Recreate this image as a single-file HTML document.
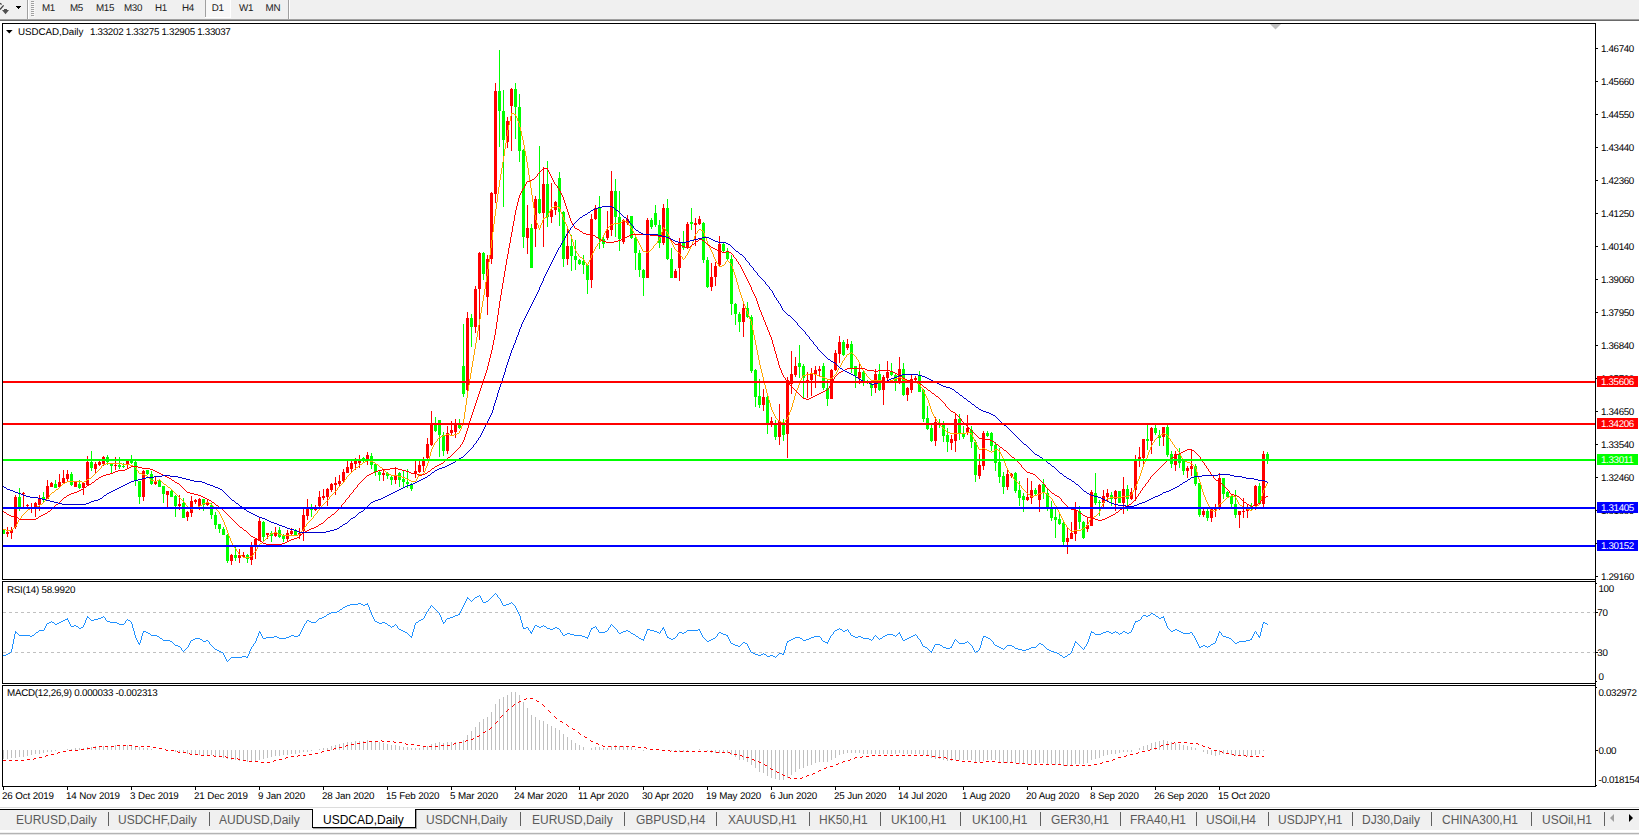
<!DOCTYPE html>
<html><head><meta charset="utf-8"><title>USDCAD,Daily</title>
<style>
html,body{margin:0;padding:0;background:#fff;}
body{width:1639px;height:835px;position:relative;overflow:hidden;font-family:"Liberation Sans",sans-serif;}
.t{position:absolute;white-space:pre;font-size:9.8px;line-height:12px;color:#000;letter-spacing:-0.25px;text-rendering:geometricPrecision;}
.tp{letter-spacing:-0.35px;}
.tt{letter-spacing:-0.05px;}
.tb{color:#202020;letter-spacing:-0.3px;}
.td{letter-spacing:-0.21px;word-spacing:0.3px;}
.tn{letter-spacing:-0.3px;}
.lb{position:absolute;left:1597px;width:41px;height:10px;padding-top:1px;color:#fff;font-size:9.8px;line-height:11px;letter-spacing:-0.35px;text-indent:4px;text-rendering:geometricPrecision;white-space:pre;}
#toolbar{position:absolute;left:0;top:0;width:1639px;height:19px;background:#f0f0f0;}
#tl1{position:absolute;left:0;top:19px;width:1639px;height:1px;background:#a0a0a0;}
#tl2{position:absolute;left:0;top:20px;width:1639px;height:1px;background:#696969;}
#tabbar{position:absolute;left:0;top:807px;width:1639px;height:28px;background:#f0f0f0;}
#tabtop{position:absolute;left:0;top:2px;width:1639px;height:1px;background:#000;}
.tab{position:absolute;top:5px;font-size:12px;line-height:16px;color:#5a5a5a;white-space:pre;}
.tab.act{color:#000;}
#acttab{position:absolute;left:312px;top:2px;width:104px;height:19px;background:#fff;border:1px solid #000;border-top:none;box-sizing:border-box;box-shadow:1px 1px 0 #a0a0a0;}
.sep{position:absolute;top:5px;width:1px;height:14px;background:#606060;}
#tabl0{position:absolute;left:0;top:0;width:100%;height:1px;background:#dcdcdc;}
#tabl1{position:absolute;left:0;top:1px;width:100%;height:1px;background:#fff;}
#tabl2{position:absolute;left:0;top:23px;width:100%;height:2px;background:#fff;}
#tabl3{position:absolute;left:0;top:26px;width:100%;height:1px;background:#b4b4b4;}
#tabl4{position:absolute;left:0;top:27px;width:100%;height:1px;background:#e4e4e4;}
svg{position:absolute;left:0;top:0;}
</style></head><body>
<div id="toolbar"></div><div id="tl1"></div><div id="tl2"></div>
<svg width="1639" height="835" viewBox="0 0 1639 835">
<g shape-rendering="crispEdges">
<rect x="3" y="529" width="1" height="5" fill="#00ff00"/>
<rect x="3" y="530" width="2" height="4" fill="#00ff00"/>
<rect x="7" y="527" width="1" height="10" fill="#ff0000"/>
<rect x="6" y="532" width="3" height="2" fill="#ff0000"/>
<rect x="11" y="527" width="1" height="12" fill="#ff0000"/>
<rect x="10" y="530" width="3" height="3" fill="#ff0000"/>
<rect x="15" y="495" width="1" height="34" fill="#ff0000"/>
<rect x="14" y="497" width="3" height="30" fill="#ff0000"/>
<rect x="19" y="488" width="1" height="23" fill="#00ff00"/>
<rect x="18" y="497" width="3" height="10" fill="#00ff00"/>
<rect x="23" y="492" width="1" height="15" fill="#ff0000"/>
<rect x="22" y="493" width="3" height="1" fill="#ff0000"/>
<rect x="27" y="504" width="1" height="5" fill="#ff0000"/>
<rect x="26" y="505" width="3" height="1" fill="#ff0000"/>
<rect x="31" y="503" width="1" height="10" fill="#ff0000"/>
<rect x="30" y="507" width="3" height="2" fill="#ff0000"/>
<rect x="35" y="502" width="1" height="15" fill="#ff0000"/>
<rect x="34" y="503" width="3" height="4" fill="#ff0000"/>
<rect x="39" y="495" width="1" height="16" fill="#ff0000"/>
<rect x="38" y="498" width="3" height="7" fill="#ff0000"/>
<rect x="43" y="492" width="1" height="11" fill="#00ff00"/>
<rect x="42" y="497" width="3" height="3" fill="#00ff00"/>
<rect x="47" y="480" width="1" height="19" fill="#ff0000"/>
<rect x="46" y="486" width="3" height="13" fill="#ff0000"/>
<rect x="51" y="482" width="1" height="5" fill="#ff0000"/>
<rect x="50" y="483" width="3" height="4" fill="#ff0000"/>
<rect x="55" y="480" width="1" height="8" fill="#00ff00"/>
<rect x="54" y="484" width="3" height="4" fill="#00ff00"/>
<rect x="59" y="474" width="1" height="14" fill="#ff0000"/>
<rect x="58" y="482" width="3" height="5" fill="#ff0000"/>
<rect x="63" y="470" width="1" height="14" fill="#ff0000"/>
<rect x="62" y="478" width="3" height="5" fill="#ff0000"/>
<rect x="67" y="470" width="1" height="12" fill="#ff0000"/>
<rect x="66" y="474" width="3" height="5" fill="#ff0000"/>
<rect x="71" y="472" width="1" height="14" fill="#00ff00"/>
<rect x="70" y="474" width="3" height="11" fill="#00ff00"/>
<rect x="75" y="481" width="1" height="6" fill="#ff0000"/>
<rect x="74" y="481" width="3" height="6" fill="#ff0000"/>
<rect x="79" y="480" width="1" height="9" fill="#00ff00"/>
<rect x="78" y="484" width="3" height="4" fill="#00ff00"/>
<rect x="83" y="483" width="1" height="12" fill="#ff0000"/>
<rect x="82" y="483" width="3" height="5" fill="#ff0000"/>
<rect x="87" y="456" width="1" height="30" fill="#ff0000"/>
<rect x="86" y="462" width="3" height="23" fill="#ff0000"/>
<rect x="91" y="451" width="1" height="20" fill="#00ff00"/>
<rect x="90" y="462" width="3" height="6" fill="#00ff00"/>
<rect x="95" y="462" width="1" height="11" fill="#ff0000"/>
<rect x="94" y="464" width="3" height="5" fill="#ff0000"/>
<rect x="99" y="461" width="1" height="5" fill="#ff0000"/>
<rect x="98" y="462" width="3" height="3" fill="#ff0000"/>
<rect x="103" y="456" width="1" height="10" fill="#ff0000"/>
<rect x="102" y="457" width="3" height="7" fill="#ff0000"/>
<rect x="107" y="455" width="1" height="10" fill="#00ff00"/>
<rect x="106" y="457" width="3" height="5" fill="#00ff00"/>
<rect x="111" y="464" width="1" height="10" fill="#00ff00"/>
<rect x="110" y="464" width="3" height="2" fill="#00ff00"/>
<rect x="115" y="457" width="1" height="13" fill="#ff0000"/>
<rect x="114" y="465" width="3" height="1" fill="#ff0000"/>
<rect x="119" y="457" width="1" height="12" fill="#00ff00"/>
<rect x="118" y="465" width="3" height="2" fill="#00ff00"/>
<rect x="123" y="463" width="1" height="5" fill="#00ff00"/>
<rect x="122" y="466" width="3" height="1" fill="#00ff00"/>
<rect x="127" y="460" width="1" height="8" fill="#ff0000"/>
<rect x="126" y="461" width="3" height="3" fill="#ff0000"/>
<rect x="131" y="455" width="1" height="9" fill="#00ff00"/>
<rect x="130" y="461" width="3" height="2" fill="#00ff00"/>
<rect x="135" y="461" width="1" height="25" fill="#00ff00"/>
<rect x="134" y="462" width="3" height="19" fill="#00ff00"/>
<rect x="139" y="481" width="1" height="23" fill="#00ff00"/>
<rect x="138" y="481" width="3" height="16" fill="#00ff00"/>
<rect x="143" y="470" width="1" height="31" fill="#ff0000"/>
<rect x="142" y="471" width="3" height="26" fill="#ff0000"/>
<rect x="147" y="470" width="1" height="5" fill="#00ff00"/>
<rect x="146" y="470" width="3" height="4" fill="#00ff00"/>
<rect x="151" y="471" width="1" height="14" fill="#00ff00"/>
<rect x="150" y="474" width="3" height="10" fill="#00ff00"/>
<rect x="155" y="477" width="1" height="8" fill="#ff0000"/>
<rect x="154" y="481" width="3" height="3" fill="#ff0000"/>
<rect x="159" y="479" width="1" height="8" fill="#00ff00"/>
<rect x="158" y="480" width="3" height="7" fill="#00ff00"/>
<rect x="163" y="486" width="1" height="17" fill="#00ff00"/>
<rect x="162" y="486" width="3" height="8" fill="#00ff00"/>
<rect x="167" y="491" width="1" height="16" fill="#ff0000"/>
<rect x="166" y="491" width="3" height="4" fill="#ff0000"/>
<rect x="171" y="490" width="1" height="7" fill="#00ff00"/>
<rect x="170" y="491" width="3" height="6" fill="#00ff00"/>
<rect x="175" y="495" width="1" height="22" fill="#00ff00"/>
<rect x="174" y="496" width="3" height="10" fill="#00ff00"/>
<rect x="179" y="495" width="1" height="15" fill="#ff0000"/>
<rect x="178" y="504" width="3" height="2" fill="#ff0000"/>
<rect x="183" y="498" width="1" height="20" fill="#00ff00"/>
<rect x="182" y="503" width="3" height="15" fill="#00ff00"/>
<rect x="187" y="511" width="1" height="10" fill="#ff0000"/>
<rect x="186" y="512" width="3" height="5" fill="#ff0000"/>
<rect x="191" y="496" width="1" height="21" fill="#ff0000"/>
<rect x="190" y="501" width="3" height="12" fill="#ff0000"/>
<rect x="195" y="499" width="1" height="5" fill="#ff0000"/>
<rect x="194" y="500" width="3" height="2" fill="#ff0000"/>
<rect x="199" y="498" width="1" height="12" fill="#ff0000"/>
<rect x="198" y="499" width="3" height="7" fill="#ff0000"/>
<rect x="203" y="499" width="1" height="12" fill="#00ff00"/>
<rect x="202" y="499" width="3" height="6" fill="#00ff00"/>
<rect x="207" y="499" width="1" height="7" fill="#ff0000"/>
<rect x="206" y="502" width="3" height="3" fill="#ff0000"/>
<rect x="211" y="503" width="1" height="16" fill="#00ff00"/>
<rect x="210" y="505" width="3" height="10" fill="#00ff00"/>
<rect x="215" y="512" width="1" height="17" fill="#00ff00"/>
<rect x="214" y="515" width="3" height="10" fill="#00ff00"/>
<rect x="219" y="524" width="1" height="9" fill="#00ff00"/>
<rect x="218" y="524" width="3" height="5" fill="#00ff00"/>
<rect x="223" y="527" width="1" height="8" fill="#00ff00"/>
<rect x="222" y="529" width="3" height="6" fill="#00ff00"/>
<rect x="227" y="534" width="1" height="29" fill="#00ff00"/>
<rect x="226" y="535" width="3" height="26" fill="#00ff00"/>
<rect x="231" y="554" width="1" height="11" fill="#ff0000"/>
<rect x="230" y="555" width="3" height="6" fill="#ff0000"/>
<rect x="235" y="547" width="1" height="14" fill="#00ff00"/>
<rect x="234" y="555" width="3" height="3" fill="#00ff00"/>
<rect x="239" y="549" width="1" height="14" fill="#ff0000"/>
<rect x="238" y="555" width="3" height="3" fill="#ff0000"/>
<rect x="243" y="552" width="1" height="6" fill="#ff0000"/>
<rect x="242" y="555" width="3" height="2" fill="#ff0000"/>
<rect x="247" y="554" width="1" height="9" fill="#00ff00"/>
<rect x="246" y="555" width="3" height="4" fill="#00ff00"/>
<rect x="251" y="542" width="1" height="23" fill="#ff0000"/>
<rect x="250" y="547" width="3" height="13" fill="#ff0000"/>
<rect x="255" y="538" width="1" height="21" fill="#ff0000"/>
<rect x="254" y="539" width="3" height="6" fill="#ff0000"/>
<rect x="259" y="518" width="1" height="23" fill="#ff0000"/>
<rect x="258" y="521" width="3" height="20" fill="#ff0000"/>
<rect x="263" y="521" width="1" height="20" fill="#00ff00"/>
<rect x="262" y="522" width="3" height="15" fill="#00ff00"/>
<rect x="267" y="533" width="1" height="6" fill="#ff0000"/>
<rect x="266" y="533" width="3" height="2" fill="#ff0000"/>
<rect x="271" y="531" width="1" height="11" fill="#00ff00"/>
<rect x="270" y="533" width="3" height="3" fill="#00ff00"/>
<rect x="275" y="527" width="1" height="10" fill="#ff0000"/>
<rect x="274" y="532" width="3" height="4" fill="#ff0000"/>
<rect x="279" y="527" width="1" height="11" fill="#00ff00"/>
<rect x="278" y="530" width="3" height="7" fill="#00ff00"/>
<rect x="283" y="534" width="1" height="8" fill="#00ff00"/>
<rect x="282" y="536" width="3" height="3" fill="#00ff00"/>
<rect x="287" y="530" width="1" height="11" fill="#ff0000"/>
<rect x="286" y="533" width="3" height="6" fill="#ff0000"/>
<rect x="291" y="528" width="1" height="7" fill="#ff0000"/>
<rect x="290" y="531" width="3" height="3" fill="#ff0000"/>
<rect x="295" y="529" width="1" height="6" fill="#00ff00"/>
<rect x="294" y="531" width="3" height="4" fill="#00ff00"/>
<rect x="299" y="528" width="1" height="11" fill="#ff0000"/>
<rect x="298" y="533" width="3" height="2" fill="#ff0000"/>
<rect x="303" y="509" width="1" height="32" fill="#ff0000"/>
<rect x="302" y="515" width="3" height="16" fill="#ff0000"/>
<rect x="307" y="499" width="1" height="21" fill="#ff0000"/>
<rect x="306" y="508" width="3" height="8" fill="#ff0000"/>
<rect x="311" y="504" width="1" height="13" fill="#00ff00"/>
<rect x="310" y="508" width="3" height="2" fill="#00ff00"/>
<rect x="315" y="505" width="1" height="6" fill="#ff0000"/>
<rect x="314" y="508" width="3" height="2" fill="#ff0000"/>
<rect x="319" y="491" width="1" height="16" fill="#ff0000"/>
<rect x="318" y="497" width="3" height="9" fill="#ff0000"/>
<rect x="323" y="489" width="1" height="11" fill="#ff0000"/>
<rect x="322" y="496" width="3" height="2" fill="#ff0000"/>
<rect x="327" y="488" width="1" height="18" fill="#ff0000"/>
<rect x="326" y="489" width="3" height="8" fill="#ff0000"/>
<rect x="331" y="483" width="1" height="9" fill="#ff0000"/>
<rect x="330" y="484" width="3" height="6" fill="#ff0000"/>
<rect x="335" y="477" width="1" height="18" fill="#ff0000"/>
<rect x="334" y="483" width="3" height="2" fill="#ff0000"/>
<rect x="339" y="475" width="1" height="11" fill="#ff0000"/>
<rect x="338" y="481" width="3" height="3" fill="#ff0000"/>
<rect x="343" y="469" width="1" height="13" fill="#ff0000"/>
<rect x="342" y="472" width="3" height="9" fill="#ff0000"/>
<rect x="347" y="461" width="1" height="12" fill="#ff0000"/>
<rect x="346" y="467" width="3" height="6" fill="#ff0000"/>
<rect x="351" y="461" width="1" height="12" fill="#ff0000"/>
<rect x="350" y="463" width="3" height="6" fill="#ff0000"/>
<rect x="355" y="458" width="1" height="12" fill="#ff0000"/>
<rect x="354" y="461" width="3" height="3" fill="#ff0000"/>
<rect x="359" y="455" width="1" height="13" fill="#ff0000"/>
<rect x="358" y="461" width="3" height="2" fill="#ff0000"/>
<rect x="363" y="457" width="1" height="5" fill="#00ff00"/>
<rect x="362" y="458" width="3" height="3" fill="#00ff00"/>
<rect x="367" y="452" width="1" height="13" fill="#ff0000"/>
<rect x="366" y="455" width="3" height="4" fill="#ff0000"/>
<rect x="371" y="453" width="1" height="16" fill="#00ff00"/>
<rect x="370" y="456" width="3" height="9" fill="#00ff00"/>
<rect x="375" y="463" width="1" height="13" fill="#00ff00"/>
<rect x="374" y="464" width="3" height="8" fill="#00ff00"/>
<rect x="379" y="471" width="1" height="10" fill="#00ff00"/>
<rect x="378" y="472" width="3" height="3" fill="#00ff00"/>
<rect x="383" y="469" width="1" height="12" fill="#ff0000"/>
<rect x="382" y="473" width="3" height="2" fill="#ff0000"/>
<rect x="387" y="472" width="1" height="7" fill="#00ff00"/>
<rect x="386" y="473" width="3" height="3" fill="#00ff00"/>
<rect x="391" y="475" width="1" height="10" fill="#00ff00"/>
<rect x="390" y="477" width="3" height="3" fill="#00ff00"/>
<rect x="395" y="467" width="1" height="17" fill="#ff0000"/>
<rect x="394" y="475" width="3" height="5" fill="#ff0000"/>
<rect x="399" y="472" width="1" height="15" fill="#00ff00"/>
<rect x="398" y="473" width="3" height="7" fill="#00ff00"/>
<rect x="403" y="471" width="1" height="16" fill="#00ff00"/>
<rect x="402" y="479" width="3" height="3" fill="#00ff00"/>
<rect x="407" y="469" width="1" height="19" fill="#00ff00"/>
<rect x="406" y="482" width="3" height="2" fill="#00ff00"/>
<rect x="411" y="483" width="1" height="8" fill="#00ff00"/>
<rect x="410" y="484" width="3" height="5" fill="#00ff00"/>
<rect x="415" y="461" width="1" height="17" fill="#ff0000"/>
<rect x="414" y="471" width="3" height="3" fill="#ff0000"/>
<rect x="419" y="460" width="1" height="13" fill="#ff0000"/>
<rect x="418" y="465" width="3" height="7" fill="#ff0000"/>
<rect x="423" y="457" width="1" height="15" fill="#ff0000"/>
<rect x="422" y="461" width="3" height="5" fill="#ff0000"/>
<rect x="427" y="438" width="1" height="21" fill="#ff0000"/>
<rect x="426" y="444" width="3" height="14" fill="#ff0000"/>
<rect x="431" y="411" width="1" height="35" fill="#ff0000"/>
<rect x="430" y="424" width="3" height="21" fill="#ff0000"/>
<rect x="435" y="417" width="1" height="15" fill="#00ff00"/>
<rect x="434" y="424" width="3" height="7" fill="#00ff00"/>
<rect x="439" y="420" width="1" height="37" fill="#00ff00"/>
<rect x="438" y="420" width="3" height="15" fill="#00ff00"/>
<rect x="443" y="432" width="1" height="24" fill="#00ff00"/>
<rect x="442" y="435" width="3" height="16" fill="#00ff00"/>
<rect x="447" y="426" width="1" height="28" fill="#ff0000"/>
<rect x="446" y="433" width="3" height="18" fill="#ff0000"/>
<rect x="451" y="421" width="1" height="15" fill="#ff0000"/>
<rect x="450" y="430" width="3" height="3" fill="#ff0000"/>
<rect x="455" y="419" width="1" height="19" fill="#ff0000"/>
<rect x="454" y="424" width="3" height="8" fill="#ff0000"/>
<rect x="459" y="419" width="1" height="10" fill="#00ff00"/>
<rect x="458" y="424" width="3" height="4" fill="#00ff00"/>
<rect x="463" y="324" width="1" height="73" fill="#00ff00"/>
<rect x="462" y="366" width="3" height="28" fill="#00ff00"/>
<rect x="467" y="312" width="1" height="83" fill="#ff0000"/>
<rect x="466" y="318" width="3" height="72" fill="#ff0000"/>
<rect x="471" y="314" width="1" height="33" fill="#00ff00"/>
<rect x="470" y="318" width="3" height="9" fill="#00ff00"/>
<rect x="475" y="286" width="1" height="47" fill="#ff0000"/>
<rect x="474" y="289" width="3" height="38" fill="#ff0000"/>
<rect x="479" y="252" width="1" height="88" fill="#ff0000"/>
<rect x="478" y="253" width="3" height="36" fill="#ff0000"/>
<rect x="483" y="252" width="1" height="28" fill="#00ff00"/>
<rect x="482" y="253" width="3" height="21" fill="#00ff00"/>
<rect x="487" y="255" width="1" height="60" fill="#ff0000"/>
<rect x="486" y="259" width="3" height="38" fill="#ff0000"/>
<rect x="491" y="192" width="1" height="72" fill="#ff0000"/>
<rect x="490" y="193" width="3" height="66" fill="#ff0000"/>
<rect x="495" y="83" width="1" height="120" fill="#ff0000"/>
<rect x="494" y="91" width="3" height="103" fill="#ff0000"/>
<rect x="499" y="50" width="1" height="97" fill="#00ff00"/>
<rect x="498" y="91" width="3" height="20" fill="#00ff00"/>
<rect x="503" y="90" width="1" height="117" fill="#00ff00"/>
<rect x="502" y="111" width="3" height="29" fill="#00ff00"/>
<rect x="507" y="117" width="1" height="31" fill="#ff0000"/>
<rect x="506" y="121" width="3" height="21" fill="#ff0000"/>
<rect x="511" y="88" width="1" height="63" fill="#ff0000"/>
<rect x="510" y="89" width="3" height="17" fill="#ff0000"/>
<rect x="515" y="83" width="1" height="56" fill="#00ff00"/>
<rect x="514" y="89" width="3" height="18" fill="#00ff00"/>
<rect x="519" y="94" width="1" height="68" fill="#00ff00"/>
<rect x="518" y="107" width="3" height="44" fill="#00ff00"/>
<rect x="523" y="149" width="1" height="99" fill="#00ff00"/>
<rect x="522" y="150" width="3" height="87" fill="#00ff00"/>
<rect x="527" y="205" width="1" height="49" fill="#ff0000"/>
<rect x="526" y="228" width="3" height="10" fill="#ff0000"/>
<rect x="531" y="224" width="1" height="44" fill="#00ff00"/>
<rect x="530" y="228" width="3" height="40" fill="#00ff00"/>
<rect x="535" y="196" width="1" height="51" fill="#ff0000"/>
<rect x="534" y="199" width="3" height="30" fill="#ff0000"/>
<rect x="539" y="146" width="1" height="68" fill="#00ff00"/>
<rect x="538" y="199" width="3" height="14" fill="#00ff00"/>
<rect x="543" y="167" width="1" height="80" fill="#ff0000"/>
<rect x="542" y="184" width="3" height="29" fill="#ff0000"/>
<rect x="547" y="161" width="1" height="66" fill="#00ff00"/>
<rect x="546" y="184" width="3" height="33" fill="#00ff00"/>
<rect x="551" y="183" width="1" height="40" fill="#ff0000"/>
<rect x="550" y="210" width="3" height="7" fill="#ff0000"/>
<rect x="555" y="201" width="1" height="14" fill="#ff0000"/>
<rect x="554" y="202" width="3" height="8" fill="#ff0000"/>
<rect x="559" y="172" width="1" height="54" fill="#00ff00"/>
<rect x="558" y="178" width="3" height="34" fill="#00ff00"/>
<rect x="563" y="211" width="1" height="56" fill="#00ff00"/>
<rect x="562" y="212" width="3" height="47" fill="#00ff00"/>
<rect x="567" y="228" width="1" height="37" fill="#ff0000"/>
<rect x="566" y="246" width="3" height="13" fill="#ff0000"/>
<rect x="571" y="235" width="1" height="36" fill="#00ff00"/>
<rect x="570" y="246" width="3" height="10" fill="#00ff00"/>
<rect x="575" y="240" width="1" height="30" fill="#00ff00"/>
<rect x="574" y="256" width="3" height="4" fill="#00ff00"/>
<rect x="579" y="259" width="1" height="6" fill="#00ff00"/>
<rect x="578" y="260" width="3" height="4" fill="#00ff00"/>
<rect x="583" y="255" width="1" height="19" fill="#00ff00"/>
<rect x="582" y="261" width="3" height="4" fill="#00ff00"/>
<rect x="587" y="264" width="1" height="30" fill="#00ff00"/>
<rect x="586" y="265" width="3" height="15" fill="#00ff00"/>
<rect x="591" y="214" width="1" height="74" fill="#ff0000"/>
<rect x="590" y="219" width="3" height="61" fill="#ff0000"/>
<rect x="595" y="205" width="1" height="15" fill="#ff0000"/>
<rect x="594" y="208" width="3" height="11" fill="#ff0000"/>
<rect x="599" y="196" width="1" height="53" fill="#00ff00"/>
<rect x="598" y="208" width="3" height="31" fill="#00ff00"/>
<rect x="603" y="237" width="1" height="11" fill="#00ff00"/>
<rect x="602" y="239" width="3" height="5" fill="#00ff00"/>
<rect x="607" y="211" width="1" height="29" fill="#ff0000"/>
<rect x="606" y="230" width="3" height="8" fill="#ff0000"/>
<rect x="611" y="171" width="1" height="65" fill="#ff0000"/>
<rect x="610" y="191" width="3" height="39" fill="#ff0000"/>
<rect x="615" y="179" width="1" height="58" fill="#00ff00"/>
<rect x="614" y="191" width="3" height="26" fill="#00ff00"/>
<rect x="619" y="191" width="1" height="60" fill="#00ff00"/>
<rect x="618" y="217" width="3" height="22" fill="#00ff00"/>
<rect x="623" y="219" width="1" height="25" fill="#ff0000"/>
<rect x="622" y="220" width="3" height="22" fill="#ff0000"/>
<rect x="627" y="215" width="1" height="10" fill="#ff0000"/>
<rect x="626" y="219" width="3" height="4" fill="#ff0000"/>
<rect x="631" y="216" width="1" height="23" fill="#00ff00"/>
<rect x="630" y="216" width="3" height="22" fill="#00ff00"/>
<rect x="635" y="237" width="1" height="33" fill="#00ff00"/>
<rect x="634" y="238" width="3" height="15" fill="#00ff00"/>
<rect x="639" y="250" width="1" height="27" fill="#00ff00"/>
<rect x="638" y="253" width="3" height="17" fill="#00ff00"/>
<rect x="643" y="269" width="1" height="27" fill="#00ff00"/>
<rect x="642" y="270" width="3" height="8" fill="#00ff00"/>
<rect x="647" y="218" width="1" height="60" fill="#ff0000"/>
<rect x="646" y="220" width="3" height="58" fill="#ff0000"/>
<rect x="651" y="218" width="1" height="11" fill="#00ff00"/>
<rect x="650" y="220" width="3" height="7" fill="#00ff00"/>
<rect x="655" y="205" width="1" height="22" fill="#00ff00"/>
<rect x="654" y="213" width="3" height="12" fill="#00ff00"/>
<rect x="659" y="220" width="1" height="28" fill="#00ff00"/>
<rect x="658" y="225" width="3" height="18" fill="#00ff00"/>
<rect x="663" y="204" width="1" height="41" fill="#ff0000"/>
<rect x="662" y="208" width="3" height="35" fill="#ff0000"/>
<rect x="667" y="199" width="1" height="61" fill="#00ff00"/>
<rect x="666" y="208" width="3" height="51" fill="#00ff00"/>
<rect x="671" y="248" width="1" height="30" fill="#00ff00"/>
<rect x="670" y="259" width="3" height="19" fill="#00ff00"/>
<rect x="675" y="269" width="1" height="9" fill="#ff0000"/>
<rect x="674" y="271" width="3" height="7" fill="#ff0000"/>
<rect x="679" y="238" width="1" height="43" fill="#ff0000"/>
<rect x="678" y="243" width="3" height="25" fill="#ff0000"/>
<rect x="683" y="231" width="1" height="19" fill="#00ff00"/>
<rect x="682" y="243" width="3" height="5" fill="#00ff00"/>
<rect x="687" y="222" width="1" height="27" fill="#ff0000"/>
<rect x="686" y="224" width="3" height="24" fill="#ff0000"/>
<rect x="691" y="208" width="1" height="22" fill="#00ff00"/>
<rect x="690" y="222" width="3" height="2" fill="#00ff00"/>
<rect x="695" y="218" width="1" height="28" fill="#ff0000"/>
<rect x="694" y="223" width="3" height="2" fill="#ff0000"/>
<rect x="699" y="216" width="1" height="9" fill="#ff0000"/>
<rect x="698" y="219" width="3" height="5" fill="#ff0000"/>
<rect x="703" y="222" width="1" height="41" fill="#00ff00"/>
<rect x="702" y="223" width="3" height="37" fill="#00ff00"/>
<rect x="707" y="257" width="1" height="31" fill="#00ff00"/>
<rect x="706" y="260" width="3" height="27" fill="#00ff00"/>
<rect x="711" y="263" width="1" height="28" fill="#ff0000"/>
<rect x="710" y="277" width="3" height="10" fill="#ff0000"/>
<rect x="715" y="262" width="1" height="24" fill="#ff0000"/>
<rect x="714" y="266" width="3" height="11" fill="#ff0000"/>
<rect x="719" y="236" width="1" height="30" fill="#ff0000"/>
<rect x="718" y="244" width="3" height="21" fill="#ff0000"/>
<rect x="723" y="243" width="1" height="9" fill="#00ff00"/>
<rect x="722" y="244" width="3" height="7" fill="#00ff00"/>
<rect x="727" y="248" width="1" height="13" fill="#00ff00"/>
<rect x="726" y="251" width="3" height="8" fill="#00ff00"/>
<rect x="731" y="255" width="1" height="60" fill="#00ff00"/>
<rect x="730" y="259" width="3" height="45" fill="#00ff00"/>
<rect x="735" y="303" width="1" height="22" fill="#00ff00"/>
<rect x="734" y="304" width="3" height="10" fill="#00ff00"/>
<rect x="739" y="312" width="1" height="20" fill="#00ff00"/>
<rect x="738" y="314" width="3" height="8" fill="#00ff00"/>
<rect x="743" y="302" width="1" height="35" fill="#ff0000"/>
<rect x="742" y="308" width="3" height="14" fill="#ff0000"/>
<rect x="747" y="302" width="1" height="16" fill="#00ff00"/>
<rect x="746" y="308" width="3" height="9" fill="#00ff00"/>
<rect x="751" y="315" width="1" height="58" fill="#00ff00"/>
<rect x="750" y="317" width="3" height="54" fill="#00ff00"/>
<rect x="755" y="369" width="1" height="38" fill="#00ff00"/>
<rect x="754" y="370" width="3" height="27" fill="#00ff00"/>
<rect x="759" y="379" width="1" height="29" fill="#00ff00"/>
<rect x="758" y="396" width="3" height="9" fill="#00ff00"/>
<rect x="763" y="389" width="1" height="22" fill="#ff0000"/>
<rect x="762" y="397" width="3" height="8" fill="#ff0000"/>
<rect x="767" y="395" width="1" height="39" fill="#00ff00"/>
<rect x="766" y="397" width="3" height="26" fill="#00ff00"/>
<rect x="771" y="417" width="1" height="10" fill="#ff0000"/>
<rect x="770" y="421" width="3" height="3" fill="#ff0000"/>
<rect x="775" y="420" width="1" height="20" fill="#00ff00"/>
<rect x="774" y="423" width="3" height="14" fill="#00ff00"/>
<rect x="779" y="404" width="1" height="41" fill="#ff0000"/>
<rect x="778" y="421" width="3" height="16" fill="#ff0000"/>
<rect x="783" y="419" width="1" height="22" fill="#00ff00"/>
<rect x="782" y="422" width="3" height="13" fill="#00ff00"/>
<rect x="787" y="377" width="1" height="81" fill="#ff0000"/>
<rect x="786" y="380" width="3" height="54" fill="#ff0000"/>
<rect x="791" y="351" width="1" height="43" fill="#ff0000"/>
<rect x="790" y="374" width="3" height="10" fill="#ff0000"/>
<rect x="795" y="357" width="1" height="20" fill="#ff0000"/>
<rect x="794" y="366" width="3" height="9" fill="#ff0000"/>
<rect x="799" y="345" width="1" height="33" fill="#00ff00"/>
<rect x="798" y="363" width="3" height="4" fill="#00ff00"/>
<rect x="803" y="364" width="1" height="35" fill="#00ff00"/>
<rect x="802" y="366" width="3" height="12" fill="#00ff00"/>
<rect x="807" y="372" width="1" height="26" fill="#ff0000"/>
<rect x="806" y="380" width="3" height="2" fill="#ff0000"/>
<rect x="811" y="368" width="1" height="28" fill="#ff0000"/>
<rect x="810" y="373" width="3" height="7" fill="#ff0000"/>
<rect x="815" y="366" width="1" height="22" fill="#ff0000"/>
<rect x="814" y="370" width="3" height="4" fill="#ff0000"/>
<rect x="819" y="366" width="1" height="10" fill="#ff0000"/>
<rect x="818" y="369" width="3" height="2" fill="#ff0000"/>
<rect x="823" y="363" width="1" height="27" fill="#00ff00"/>
<rect x="822" y="366" width="3" height="22" fill="#00ff00"/>
<rect x="827" y="380" width="1" height="26" fill="#00ff00"/>
<rect x="826" y="388" width="3" height="11" fill="#00ff00"/>
<rect x="831" y="369" width="1" height="30" fill="#ff0000"/>
<rect x="830" y="370" width="3" height="29" fill="#ff0000"/>
<rect x="835" y="350" width="1" height="21" fill="#ff0000"/>
<rect x="834" y="353" width="3" height="17" fill="#ff0000"/>
<rect x="839" y="336" width="1" height="27" fill="#ff0000"/>
<rect x="838" y="342" width="3" height="12" fill="#ff0000"/>
<rect x="843" y="340" width="1" height="16" fill="#00ff00"/>
<rect x="842" y="342" width="3" height="13" fill="#00ff00"/>
<rect x="847" y="339" width="1" height="11" fill="#ff0000"/>
<rect x="846" y="344" width="3" height="4" fill="#ff0000"/>
<rect x="851" y="341" width="1" height="32" fill="#00ff00"/>
<rect x="850" y="344" width="3" height="24" fill="#00ff00"/>
<rect x="855" y="366" width="1" height="22" fill="#00ff00"/>
<rect x="854" y="366" width="3" height="10" fill="#00ff00"/>
<rect x="859" y="363" width="1" height="21" fill="#ff0000"/>
<rect x="858" y="372" width="3" height="6" fill="#ff0000"/>
<rect x="863" y="370" width="1" height="16" fill="#00ff00"/>
<rect x="862" y="372" width="3" height="9" fill="#00ff00"/>
<rect x="867" y="380" width="1" height="4" fill="#00ff00"/>
<rect x="866" y="381" width="3" height="2" fill="#00ff00"/>
<rect x="871" y="383" width="1" height="13" fill="#00ff00"/>
<rect x="870" y="384" width="3" height="4" fill="#00ff00"/>
<rect x="875" y="369" width="1" height="24" fill="#ff0000"/>
<rect x="874" y="374" width="3" height="14" fill="#ff0000"/>
<rect x="879" y="364" width="1" height="27" fill="#00ff00"/>
<rect x="878" y="374" width="3" height="16" fill="#00ff00"/>
<rect x="883" y="375" width="1" height="30" fill="#ff0000"/>
<rect x="882" y="377" width="3" height="13" fill="#ff0000"/>
<rect x="887" y="361" width="1" height="19" fill="#ff0000"/>
<rect x="886" y="372" width="3" height="6" fill="#ff0000"/>
<rect x="891" y="363" width="1" height="13" fill="#00ff00"/>
<rect x="890" y="372" width="3" height="3" fill="#00ff00"/>
<rect x="895" y="374" width="1" height="17" fill="#00ff00"/>
<rect x="894" y="375" width="3" height="6" fill="#00ff00"/>
<rect x="899" y="357" width="1" height="27" fill="#ff0000"/>
<rect x="898" y="369" width="3" height="14" fill="#ff0000"/>
<rect x="903" y="363" width="1" height="33" fill="#00ff00"/>
<rect x="902" y="369" width="3" height="26" fill="#00ff00"/>
<rect x="907" y="387" width="1" height="14" fill="#ff0000"/>
<rect x="906" y="388" width="3" height="7" fill="#ff0000"/>
<rect x="911" y="375" width="1" height="18" fill="#ff0000"/>
<rect x="910" y="379" width="3" height="11" fill="#ff0000"/>
<rect x="915" y="376" width="1" height="6" fill="#ff0000"/>
<rect x="914" y="378" width="3" height="2" fill="#ff0000"/>
<rect x="919" y="371" width="1" height="21" fill="#00ff00"/>
<rect x="918" y="376" width="3" height="16" fill="#00ff00"/>
<rect x="923" y="389" width="1" height="33" fill="#00ff00"/>
<rect x="922" y="390" width="3" height="29" fill="#00ff00"/>
<rect x="927" y="406" width="1" height="24" fill="#00ff00"/>
<rect x="926" y="418" width="3" height="11" fill="#00ff00"/>
<rect x="931" y="424" width="1" height="18" fill="#00ff00"/>
<rect x="930" y="428" width="3" height="13" fill="#00ff00"/>
<rect x="935" y="417" width="1" height="29" fill="#ff0000"/>
<rect x="934" y="422" width="3" height="19" fill="#ff0000"/>
<rect x="939" y="419" width="1" height="9" fill="#00ff00"/>
<rect x="938" y="423" width="3" height="2" fill="#00ff00"/>
<rect x="943" y="421" width="1" height="21" fill="#00ff00"/>
<rect x="942" y="424" width="3" height="12" fill="#00ff00"/>
<rect x="947" y="428" width="1" height="24" fill="#00ff00"/>
<rect x="946" y="435" width="3" height="7" fill="#00ff00"/>
<rect x="951" y="435" width="1" height="15" fill="#ff0000"/>
<rect x="950" y="439" width="3" height="4" fill="#ff0000"/>
<rect x="955" y="413" width="1" height="39" fill="#ff0000"/>
<rect x="954" y="419" width="3" height="22" fill="#ff0000"/>
<rect x="959" y="414" width="1" height="26" fill="#00ff00"/>
<rect x="958" y="419" width="3" height="15" fill="#00ff00"/>
<rect x="963" y="426" width="1" height="13" fill="#00ff00"/>
<rect x="962" y="433" width="3" height="4" fill="#00ff00"/>
<rect x="967" y="415" width="1" height="20" fill="#ff0000"/>
<rect x="966" y="428" width="3" height="5" fill="#ff0000"/>
<rect x="971" y="426" width="1" height="22" fill="#00ff00"/>
<rect x="970" y="430" width="3" height="12" fill="#00ff00"/>
<rect x="975" y="440" width="1" height="42" fill="#00ff00"/>
<rect x="974" y="442" width="3" height="33" fill="#00ff00"/>
<rect x="979" y="454" width="1" height="25" fill="#ff0000"/>
<rect x="978" y="465" width="3" height="11" fill="#ff0000"/>
<rect x="983" y="431" width="1" height="39" fill="#ff0000"/>
<rect x="982" y="433" width="3" height="33" fill="#ff0000"/>
<rect x="987" y="431" width="1" height="6" fill="#00ff00"/>
<rect x="986" y="433" width="3" height="3" fill="#00ff00"/>
<rect x="991" y="432" width="1" height="19" fill="#00ff00"/>
<rect x="990" y="433" width="3" height="13" fill="#00ff00"/>
<rect x="995" y="442" width="1" height="29" fill="#00ff00"/>
<rect x="994" y="445" width="3" height="18" fill="#00ff00"/>
<rect x="999" y="448" width="1" height="35" fill="#00ff00"/>
<rect x="998" y="462" width="3" height="15" fill="#00ff00"/>
<rect x="1003" y="472" width="1" height="22" fill="#00ff00"/>
<rect x="1002" y="476" width="3" height="11" fill="#00ff00"/>
<rect x="1007" y="470" width="1" height="20" fill="#ff0000"/>
<rect x="1006" y="474" width="3" height="13" fill="#ff0000"/>
<rect x="1011" y="473" width="1" height="5" fill="#ff0000"/>
<rect x="1010" y="474" width="3" height="2" fill="#ff0000"/>
<rect x="1015" y="472" width="1" height="21" fill="#00ff00"/>
<rect x="1014" y="473" width="3" height="18" fill="#00ff00"/>
<rect x="1019" y="481" width="1" height="25" fill="#00ff00"/>
<rect x="1018" y="490" width="3" height="8" fill="#00ff00"/>
<rect x="1023" y="493" width="1" height="19" fill="#00ff00"/>
<rect x="1022" y="496" width="3" height="4" fill="#00ff00"/>
<rect x="1027" y="478" width="1" height="23" fill="#ff0000"/>
<rect x="1026" y="497" width="3" height="3" fill="#ff0000"/>
<rect x="1031" y="481" width="1" height="23" fill="#ff0000"/>
<rect x="1030" y="490" width="3" height="8" fill="#ff0000"/>
<rect x="1035" y="488" width="1" height="8" fill="#00ff00"/>
<rect x="1034" y="490" width="3" height="4" fill="#00ff00"/>
<rect x="1039" y="484" width="1" height="28" fill="#ff0000"/>
<rect x="1038" y="485" width="3" height="15" fill="#ff0000"/>
<rect x="1043" y="479" width="1" height="20" fill="#00ff00"/>
<rect x="1042" y="484" width="3" height="9" fill="#00ff00"/>
<rect x="1047" y="489" width="1" height="22" fill="#00ff00"/>
<rect x="1046" y="493" width="3" height="16" fill="#00ff00"/>
<rect x="1051" y="501" width="1" height="20" fill="#00ff00"/>
<rect x="1050" y="507" width="3" height="11" fill="#00ff00"/>
<rect x="1055" y="509" width="1" height="29" fill="#00ff00"/>
<rect x="1054" y="517" width="3" height="3" fill="#00ff00"/>
<rect x="1059" y="514" width="1" height="11" fill="#00ff00"/>
<rect x="1058" y="519" width="3" height="5" fill="#00ff00"/>
<rect x="1063" y="521" width="1" height="24" fill="#00ff00"/>
<rect x="1062" y="523" width="3" height="19" fill="#00ff00"/>
<rect x="1067" y="528" width="1" height="26" fill="#ff0000"/>
<rect x="1066" y="538" width="3" height="4" fill="#ff0000"/>
<rect x="1071" y="522" width="1" height="17" fill="#ff0000"/>
<rect x="1070" y="533" width="3" height="6" fill="#ff0000"/>
<rect x="1075" y="502" width="1" height="39" fill="#ff0000"/>
<rect x="1074" y="510" width="3" height="24" fill="#ff0000"/>
<rect x="1079" y="506" width="1" height="23" fill="#00ff00"/>
<rect x="1078" y="511" width="3" height="11" fill="#00ff00"/>
<rect x="1083" y="521" width="1" height="18" fill="#00ff00"/>
<rect x="1082" y="522" width="3" height="16" fill="#00ff00"/>
<rect x="1087" y="517" width="1" height="15" fill="#ff0000"/>
<rect x="1086" y="525" width="3" height="4" fill="#ff0000"/>
<rect x="1091" y="490" width="1" height="36" fill="#ff0000"/>
<rect x="1090" y="492" width="3" height="34" fill="#ff0000"/>
<rect x="1095" y="473" width="1" height="32" fill="#00ff00"/>
<rect x="1094" y="493" width="3" height="10" fill="#00ff00"/>
<rect x="1099" y="500" width="1" height="16" fill="#00ff00"/>
<rect x="1098" y="502" width="3" height="1" fill="#00ff00"/>
<rect x="1103" y="490" width="1" height="17" fill="#ff0000"/>
<rect x="1102" y="496" width="3" height="7" fill="#ff0000"/>
<rect x="1107" y="489" width="1" height="12" fill="#ff0000"/>
<rect x="1106" y="493" width="3" height="4" fill="#ff0000"/>
<rect x="1111" y="492" width="1" height="14" fill="#00ff00"/>
<rect x="1110" y="495" width="3" height="4" fill="#00ff00"/>
<rect x="1115" y="490" width="1" height="21" fill="#ff0000"/>
<rect x="1114" y="491" width="3" height="8" fill="#ff0000"/>
<rect x="1119" y="491" width="1" height="12" fill="#00ff00"/>
<rect x="1118" y="491" width="3" height="12" fill="#00ff00"/>
<rect x="1123" y="477" width="1" height="37" fill="#ff0000"/>
<rect x="1122" y="489" width="3" height="14" fill="#ff0000"/>
<rect x="1127" y="485" width="1" height="26" fill="#00ff00"/>
<rect x="1126" y="489" width="3" height="10" fill="#00ff00"/>
<rect x="1131" y="488" width="1" height="12" fill="#ff0000"/>
<rect x="1130" y="492" width="3" height="7" fill="#ff0000"/>
<rect x="1135" y="455" width="1" height="46" fill="#ff0000"/>
<rect x="1134" y="460" width="3" height="30" fill="#ff0000"/>
<rect x="1139" y="447" width="1" height="20" fill="#ff0000"/>
<rect x="1138" y="457" width="3" height="4" fill="#ff0000"/>
<rect x="1143" y="439" width="1" height="25" fill="#ff0000"/>
<rect x="1142" y="439" width="3" height="19" fill="#ff0000"/>
<rect x="1147" y="425" width="1" height="25" fill="#00ff00"/>
<rect x="1146" y="439" width="3" height="2" fill="#00ff00"/>
<rect x="1151" y="427" width="1" height="27" fill="#ff0000"/>
<rect x="1150" y="428" width="3" height="13" fill="#ff0000"/>
<rect x="1155" y="425" width="1" height="10" fill="#00ff00"/>
<rect x="1154" y="428" width="3" height="5" fill="#00ff00"/>
<rect x="1159" y="430" width="1" height="16" fill="#00ff00"/>
<rect x="1158" y="435" width="3" height="3" fill="#00ff00"/>
<rect x="1163" y="427" width="1" height="19" fill="#ff0000"/>
<rect x="1162" y="427" width="3" height="10" fill="#ff0000"/>
<rect x="1167" y="425" width="1" height="32" fill="#00ff00"/>
<rect x="1166" y="427" width="3" height="28" fill="#00ff00"/>
<rect x="1171" y="451" width="1" height="17" fill="#00ff00"/>
<rect x="1170" y="454" width="3" height="10" fill="#00ff00"/>
<rect x="1175" y="451" width="1" height="20" fill="#ff0000"/>
<rect x="1174" y="454" width="3" height="11" fill="#ff0000"/>
<rect x="1179" y="448" width="1" height="20" fill="#00ff00"/>
<rect x="1178" y="454" width="3" height="9" fill="#00ff00"/>
<rect x="1183" y="459" width="1" height="16" fill="#00ff00"/>
<rect x="1182" y="461" width="3" height="10" fill="#00ff00"/>
<rect x="1187" y="466" width="1" height="12" fill="#ff0000"/>
<rect x="1186" y="468" width="3" height="3" fill="#ff0000"/>
<rect x="1191" y="450" width="1" height="26" fill="#ff0000"/>
<rect x="1190" y="466" width="3" height="3" fill="#ff0000"/>
<rect x="1195" y="464" width="1" height="22" fill="#00ff00"/>
<rect x="1194" y="466" width="3" height="18" fill="#00ff00"/>
<rect x="1199" y="483" width="1" height="34" fill="#00ff00"/>
<rect x="1198" y="483" width="3" height="32" fill="#00ff00"/>
<rect x="1203" y="509" width="1" height="8" fill="#ff0000"/>
<rect x="1202" y="511" width="3" height="4" fill="#ff0000"/>
<rect x="1207" y="509" width="1" height="12" fill="#00ff00"/>
<rect x="1206" y="511" width="3" height="7" fill="#00ff00"/>
<rect x="1211" y="507" width="1" height="15" fill="#ff0000"/>
<rect x="1210" y="508" width="3" height="10" fill="#ff0000"/>
<rect x="1215" y="504" width="1" height="13" fill="#ff0000"/>
<rect x="1214" y="508" width="3" height="2" fill="#ff0000"/>
<rect x="1219" y="473" width="1" height="37" fill="#ff0000"/>
<rect x="1218" y="478" width="3" height="30" fill="#ff0000"/>
<rect x="1223" y="478" width="1" height="21" fill="#00ff00"/>
<rect x="1222" y="478" width="3" height="16" fill="#00ff00"/>
<rect x="1227" y="491" width="1" height="6" fill="#00ff00"/>
<rect x="1226" y="492" width="3" height="5" fill="#00ff00"/>
<rect x="1231" y="494" width="1" height="13" fill="#00ff00"/>
<rect x="1230" y="496" width="3" height="8" fill="#00ff00"/>
<rect x="1235" y="490" width="1" height="28" fill="#00ff00"/>
<rect x="1234" y="504" width="3" height="11" fill="#00ff00"/>
<rect x="1239" y="511" width="1" height="17" fill="#ff0000"/>
<rect x="1238" y="511" width="3" height="4" fill="#ff0000"/>
<rect x="1243" y="498" width="1" height="20" fill="#ff0000"/>
<rect x="1242" y="511" width="3" height="1" fill="#ff0000"/>
<rect x="1247" y="504" width="1" height="14" fill="#ff0000"/>
<rect x="1246" y="508" width="3" height="3" fill="#ff0000"/>
<rect x="1251" y="503" width="1" height="8" fill="#00ff00"/>
<rect x="1250" y="506" width="3" height="3" fill="#00ff00"/>
<rect x="1255" y="485" width="1" height="25" fill="#ff0000"/>
<rect x="1254" y="486" width="3" height="20" fill="#ff0000"/>
<rect x="1259" y="483" width="1" height="21" fill="#00ff00"/>
<rect x="1258" y="486" width="3" height="18" fill="#00ff00"/>
<rect x="1263" y="451" width="1" height="56" fill="#ff0000"/>
<rect x="1262" y="454" width="3" height="50" fill="#ff0000"/>
<rect x="1267" y="452" width="1" height="12" fill="#00ff00"/>
<rect x="1266" y="454" width="3" height="6" fill="#00ff00"/>
</g>
<path d="M16 524h1v2h-1zM17 522h1v2h-1zM18 520h1v2h-1zM21 516h1v2h-1zM49 495h1v2h-1zM101 466h1v2h-1zM136 468h1v2h-1zM138 471h1v2h-1zM185 503h1v2h-1zM219 512h1v2h-1zM220 514h1v2h-1zM221 516h1v2h-1zM222 518h1v2h-1zM223 520h1v2h-1zM224 522h1v3h-1zM225 525h1v2h-1zM226 527h1v3h-1zM227 530h1v3h-1zM228 533h1v3h-1zM229 536h1v2h-1zM230 538h1v3h-1zM231 541h1v2h-1zM232 543h1v2h-1zM234 546h1v2h-1zM236 549h1v2h-1zM238 552h1v2h-1zM253 553h1v2h-1zM256 549h1v2h-1zM257 547h1v2h-1zM258 545h1v2h-1zM301 531h1v2h-1zM304 527h1v2h-1zM306 524h1v2h-1zM313 516h1v2h-1zM317 511h1v2h-1zM321 506h1v2h-1zM329 497h1v2h-1zM337 488h1v2h-1zM344 480h1v2h-1zM346 477h1v2h-1zM416 479h1v2h-1zM417 477h1v2h-1zM418 475h1v2h-1zM423 473h1v2h-1zM424 471h1v2h-1zM425 468h1v3h-1zM426 466h1v2h-1zM427 463h1v3h-1zM428 459h1v4h-1zM429 456h1v3h-1zM430 452h1v4h-1zM431 449h1v3h-1zM432 447h1v2h-1zM433 445h1v2h-1zM434 443h1v2h-1zM437 439h1v2h-1zM459 431h1v2h-1zM460 429h1v2h-1zM461 426h1v3h-1zM462 424h1v2h-1zM463 419h1v5h-1zM464 412h1v7h-1zM465 405h1v7h-1zM466 398h1v7h-1zM467 391h1v7h-1zM468 385h1v6h-1zM469 379h1v6h-1zM470 373h1v6h-1zM471 367h1v6h-1zM472 361h1v6h-1zM473 355h1v6h-1zM474 349h1v6h-1zM475 343h1v6h-1zM476 337h1v6h-1zM477 331h1v6h-1zM478 325h1v6h-1zM479 319h1v6h-1zM480 313h1v6h-1zM481 307h1v6h-1zM482 301h1v6h-1zM483 295h1v6h-1zM484 289h1v6h-1zM485 282h1v7h-1zM486 276h1v6h-1zM487 269h1v7h-1zM488 262h1v7h-1zM489 255h1v7h-1zM490 248h1v7h-1zM491 240h1v8h-1zM492 232h1v8h-1zM493 224h1v8h-1zM494 216h1v8h-1zM495 209h1v7h-1zM496 202h1v7h-1zM497 194h1v8h-1zM498 187h1v7h-1zM499 180h1v7h-1zM500 174h1v6h-1zM501 168h1v6h-1zM502 162h1v6h-1zM503 156h1v6h-1zM504 149h1v7h-1zM505 143h1v6h-1zM506 136h1v7h-1zM507 130h1v6h-1zM508 125h1v5h-1zM509 121h1v4h-1zM510 116h1v5h-1zM511 113h1v3h-1zM515 114h1v2h-1zM516 116h1v2h-1zM517 118h1v3h-1zM518 121h1v2h-1zM519 123h1v4h-1zM520 127h1v4h-1zM521 131h1v5h-1zM522 136h1v4h-1zM523 140h1v5h-1zM524 145h1v6h-1zM525 151h1v5h-1zM526 156h1v6h-1zM527 162h1v6h-1zM528 168h1v7h-1zM529 175h1v6h-1zM530 181h1v7h-1zM531 188h1v7h-1zM532 195h1v7h-1zM533 202h1v6h-1zM534 208h1v7h-1zM535 215h1v5h-1zM536 220h1v3h-1zM537 223h1v2h-1zM538 225h1v3h-1zM539 228h1v2h-1zM540 225h1v3h-1zM541 223h1v2h-1zM542 220h1v3h-1zM543 218h1v2h-1zM547 215h1v2h-1zM548 213h1v2h-1zM549 211h1v2h-1zM550 209h1v2h-1zM551 207h1v2h-1zM559 207h1v2h-1zM560 209h1v3h-1zM561 212h1v2h-1zM562 214h1v3h-1zM563 217h1v3h-1zM564 220h1v2h-1zM565 222h1v2h-1zM566 224h1v2h-1zM567 226h1v3h-1zM568 229h1v2h-1zM569 231h1v3h-1zM570 234h1v2h-1zM571 236h1v3h-1zM572 239h1v3h-1zM573 242h1v4h-1zM574 246h1v3h-1zM575 249h1v2h-1zM576 251h1v2h-1zM578 254h1v2h-1zM584 260h1v2h-1zM586 263h1v2h-1zM587 264h1v2h-1zM588 262h1v2h-1zM589 260h1v2h-1zM590 258h1v2h-1zM591 255h1v3h-1zM592 253h1v2h-1zM593 251h1v2h-1zM594 249h1v2h-1zM595 247h1v2h-1zM597 244h1v2h-1zM600 240h1v2h-1zM602 237h1v2h-1zM603 235h1v2h-1zM604 233h1v2h-1zM605 231h1v2h-1zM606 229h1v2h-1zM628 223h1v2h-1zM630 226h1v2h-1zM632 229h1v2h-1zM633 231h1v2h-1zM634 233h1v2h-1zM635 235h1v2h-1zM636 237h1v2h-1zM637 239h1v2h-1zM638 241h1v2h-1zM639 243h1v2h-1zM640 245h1v2h-1zM641 247h1v2h-1zM642 249h1v2h-1zM653 246h1v2h-1zM657 241h1v2h-1zM659 238h1v2h-1zM660 235h1v3h-1zM661 232h1v3h-1zM662 229h1v3h-1zM663 227h1v2h-1zM665 229h1v2h-1zM667 232h1v2h-1zM668 234h1v2h-1zM669 236h1v3h-1zM670 239h1v2h-1zM671 241h1v2h-1zM672 243h1v2h-1zM673 245h1v2h-1zM674 247h1v2h-1zM680 254h1v2h-1zM682 257h1v2h-1zM685 256h1v2h-1zM687 253h1v2h-1zM688 251h1v2h-1zM689 249h1v2h-1zM690 247h1v2h-1zM691 245h1v2h-1zM692 242h1v3h-1zM693 239h1v3h-1zM694 236h1v3h-1zM695 234h1v2h-1zM697 231h1v2h-1zM703 231h1v2h-1zM704 233h1v3h-1zM705 236h1v2h-1zM706 238h1v3h-1zM707 241h1v3h-1zM708 244h1v2h-1zM709 246h1v2h-1zM710 248h1v2h-1zM711 250h1v2h-1zM712 252h1v2h-1zM713 254h1v3h-1zM714 257h1v2h-1zM715 259h1v2h-1zM716 261h1v2h-1zM718 264h1v2h-1zM725 262h1v2h-1zM731 264h1v2h-1zM732 266h1v3h-1zM733 269h1v3h-1zM734 272h1v3h-1zM735 275h1v3h-1zM736 278h1v4h-1zM737 282h1v3h-1zM738 285h1v4h-1zM739 289h1v3h-1zM740 292h1v3h-1zM741 295h1v3h-1zM742 298h1v3h-1zM743 301h1v3h-1zM744 304h1v2h-1zM745 306h1v3h-1zM746 309h1v2h-1zM747 311h1v3h-1zM748 314h1v2h-1zM749 316h1v3h-1zM750 319h1v2h-1zM751 321h1v4h-1zM752 325h1v5h-1zM753 330h1v5h-1zM754 335h1v5h-1zM755 340h1v5h-1zM756 345h1v5h-1zM757 350h1v5h-1zM758 355h1v5h-1zM759 360h1v5h-1zM760 365h1v4h-1zM761 369h1v4h-1zM762 373h1v4h-1zM763 377h1v4h-1zM764 381h1v4h-1zM765 385h1v4h-1zM766 389h1v4h-1zM767 393h1v3h-1zM768 396h1v4h-1zM769 400h1v3h-1zM770 403h1v4h-1zM771 407h1v3h-1zM772 410h1v2h-1zM773 412h1v2h-1zM774 414h1v2h-1zM775 416h1v2h-1zM785 420h1v2h-1zM787 417h1v2h-1zM788 415h1v2h-1zM789 412h1v3h-1zM790 410h1v2h-1zM791 407h1v3h-1zM792 403h1v4h-1zM793 400h1v3h-1zM794 396h1v4h-1zM795 393h1v3h-1zM796 390h1v3h-1zM797 388h1v2h-1zM798 385h1v3h-1zM799 382h1v3h-1zM800 380h1v2h-1zM801 378h1v2h-1zM802 376h1v2h-1zM836 372h1v2h-1zM837 370h1v2h-1zM838 368h1v2h-1zM840 365h1v2h-1zM841 363h1v2h-1zM842 361h1v2h-1zM844 358h1v2h-1zM846 355h1v2h-1zM856 357h1v2h-1zM858 360h1v2h-1zM859 362h1v2h-1zM860 364h1v2h-1zM861 366h1v2h-1zM862 368h1v2h-1zM864 371h1v2h-1zM866 374h1v2h-1zM920 385h1v2h-1zM922 388h1v2h-1zM923 390h1v2h-1zM924 392h1v2h-1zM925 394h1v2h-1zM926 396h1v2h-1zM927 398h1v2h-1zM928 400h1v3h-1zM929 403h1v3h-1zM930 406h1v3h-1zM931 409h1v3h-1zM932 412h1v2h-1zM933 414h1v2h-1zM934 416h1v2h-1zM936 419h1v2h-1zM938 422h1v2h-1zM971 433h1v2h-1zM972 435h1v2h-1zM973 437h1v2h-1zM974 439h1v2h-1zM975 441h1v2h-1zM976 443h1v2h-1zM977 445h1v2h-1zM978 447h1v2h-1zM999 450h1v2h-1zM1000 452h1v2h-1zM1001 454h1v2h-1zM1002 456h1v2h-1zM1003 458h1v3h-1zM1004 461h1v2h-1zM1005 463h1v3h-1zM1006 466h1v2h-1zM1007 468h1v2h-1zM1008 470h1v2h-1zM1010 473h1v2h-1zM1013 477h1v2h-1zM1021 486h1v2h-1zM1052 499h1v2h-1zM1053 501h1v2h-1zM1054 503h1v2h-1zM1056 506h1v2h-1zM1057 508h1v2h-1zM1058 510h1v2h-1zM1059 512h1v2h-1zM1060 514h1v2h-1zM1061 516h1v2h-1zM1062 518h1v2h-1zM1063 520h1v2h-1zM1064 522h1v2h-1zM1066 525h1v2h-1zM1087 524h1v2h-1zM1088 522h1v2h-1zM1089 520h1v2h-1zM1090 518h1v2h-1zM1099 511h1v2h-1zM1100 509h1v2h-1zM1101 506h1v3h-1zM1102 504h1v2h-1zM1103 502h1v2h-1zM1132 492h1v2h-1zM1133 490h1v2h-1zM1134 488h1v2h-1zM1135 486h1v2h-1zM1136 484h1v2h-1zM1137 481h1v3h-1zM1138 479h1v2h-1zM1139 476h1v3h-1zM1140 473h1v3h-1zM1141 470h1v3h-1zM1142 467h1v3h-1zM1143 464h1v3h-1zM1144 462h1v2h-1zM1145 460h1v2h-1zM1146 458h1v2h-1zM1147 455h1v3h-1zM1148 452h1v3h-1zM1149 450h1v2h-1zM1150 447h1v3h-1zM1151 445h1v2h-1zM1152 443h1v2h-1zM1154 440h1v2h-1zM1168 436h1v2h-1zM1170 439h1v2h-1zM1172 442h1v2h-1zM1174 445h1v2h-1zM1177 449h1v2h-1zM1179 452h1v2h-1zM1180 454h1v2h-1zM1181 456h1v2h-1zM1182 458h1v2h-1zM1195 467h1v2h-1zM1196 469h1v3h-1zM1197 472h1v4h-1zM1198 476h1v3h-1zM1199 479h1v3h-1zM1200 482h1v3h-1zM1201 485h1v4h-1zM1202 489h1v3h-1zM1203 492h1v3h-1zM1204 495h1v2h-1zM1205 497h1v3h-1zM1206 500h1v2h-1zM1207 502h1v2h-1zM1208 504h1v2h-1zM1209 506h1v2h-1zM1210 508h1v2h-1zM1216 509h1v2h-1zM1217 507h1v2h-1zM1218 505h1v2h-1zM1236 498h1v2h-1zM1237 500h1v2h-1zM1238 502h1v2h-1zM1259 503h1v2h-1zM1260 500h1v3h-1zM1261 496h1v4h-1zM1262 493h1v3h-1zM1263 490h1v3h-1zM1264 488h1v2h-1zM1265 486h1v2h-1zM1266 484h1v2h-1zM512 113h2v1h-2zM514 114h1v1h-1zM554 206h4v1h-4zM552 207h2v1h-2zM558 207h1v1h-1zM545 217h2v1h-2zM544 218h1v1h-1zM623 220h2v1h-2zM622 221h1v1h-1zM625 221h2v1h-2zM620 222h2v1h-2zM627 222h1v1h-1zM614 223h6v1h-6zM611 224h3v1h-3zM610 225h1v1h-1zM629 225h1v1h-1zM609 226h1v1h-1zM608 227h1v1h-1zM607 228h1v1h-1zM631 228h1v1h-1zM664 228h1v1h-1zM699 229h2v1h-2zM698 230h1v1h-1zM701 230h2v1h-2zM666 231h1v1h-1zM696 233h1v1h-1zM601 239h1v1h-1zM658 240h1v1h-1zM599 242h1v1h-1zM598 243h1v1h-1zM656 243h1v1h-1zM655 244h1v1h-1zM654 245h1v1h-1zM596 246h1v1h-1zM652 248h1v1h-1zM651 249h1v1h-1zM675 249h1v1h-1zM650 250h1v1h-1zM676 250h1v1h-1zM643 251h3v1h-3zM648 251h2v1h-2zM677 251h1v1h-1zM646 252h2v1h-2zM678 252h1v1h-1zM577 253h1v1h-1zM679 253h1v1h-1zM686 255h1v1h-1zM579 256h1v1h-1zM681 256h1v1h-1zM580 257h2v1h-2zM582 258h1v1h-1zM684 258h1v1h-1zM583 259h1v1h-1zM683 259h1v1h-1zM727 260h1v1h-1zM726 261h1v1h-1zM728 261h1v1h-1zM585 262h1v1h-1zM729 262h1v1h-1zM717 263h1v1h-1zM730 263h1v1h-1zM724 264h1v1h-1zM722 265h2v1h-2zM719 266h3v1h-3zM851 352h1v1h-1zM849 353h2v1h-2zM852 353h1v1h-1zM847 354h2v1h-2zM853 354h1v1h-1zM854 355h1v1h-1zM855 356h1v1h-1zM845 357h1v1h-1zM857 359h1v1h-1zM843 360h1v1h-1zM839 367h1v1h-1zM863 370h1v1h-1zM810 373h4v1h-4zM865 373h1v1h-1zM806 374h4v1h-4zM814 374h3v1h-3zM835 374h1v1h-1zM803 375h3v1h-3zM817 375h2v1h-2zM834 375h1v1h-1zM819 376h3v1h-3zM833 376h1v1h-1zM867 376h1v1h-1zM822 377h3v1h-3zM832 377h1v1h-1zM868 377h1v1h-1zM898 377h3v1h-3zM825 378h2v1h-2zM830 378h2v1h-2zM869 378h1v1h-1zM895 378h3v1h-3zM901 378h2v1h-2zM827 379h3v1h-3zM870 379h1v1h-1zM893 379h2v1h-2zM903 379h2v1h-2zM871 380h11v1h-11zM890 380h3v1h-3zM905 380h2v1h-2zM882 381h8v1h-8zM907 381h3v1h-3zM910 382h7v1h-7zM917 383h2v1h-2zM919 384h1v1h-1zM921 387h1v1h-1zM776 418h1v1h-1zM935 418h1v1h-1zM777 419h1v1h-1zM786 419h1v1h-1zM778 420h1v1h-1zM779 421h2v1h-2zM937 421h1v1h-1zM781 422h2v1h-2zM784 422h1v1h-1zM783 423h1v1h-1zM939 424h1v1h-1zM940 425h1v1h-1zM941 426h1v1h-1zM942 427h1v1h-1zM943 428h1v1h-1zM944 429h1v1h-1zM945 430h1v1h-1zM946 431h1v1h-1zM947 432h3v1h-3zM966 432h4v1h-4zM457 433h2v1h-2zM950 433h16v1h-16zM970 433h1v1h-1zM1163 433h2v1h-2zM446 434h4v1h-4zM454 434h3v1h-3zM1161 434h2v1h-2zM1165 434h2v1h-2zM443 435h3v1h-3zM450 435h4v1h-4zM1159 435h2v1h-2zM1167 435h1v1h-1zM441 436h2v1h-2zM1158 436h1v1h-1zM439 437h2v1h-2zM1157 437h1v1h-1zM438 438h1v1h-1zM1156 438h1v1h-1zM1169 438h1v1h-1zM1155 439h1v1h-1zM436 441h1v1h-1zM1171 441h1v1h-1zM435 442h1v1h-1zM1153 442h1v1h-1zM1173 444h1v1h-1zM1175 447h1v1h-1zM982 448h3v1h-3zM1176 448h1v1h-1zM979 449h3v1h-3zM985 449h2v1h-2zM995 449h3v1h-3zM987 450h2v1h-2zM994 450h1v1h-1zM998 450h1v1h-1zM989 451h2v1h-2zM992 451h2v1h-2zM1178 451h1v1h-1zM991 452h1v1h-1zM367 460h3v1h-3zM1183 460h2v1h-2zM365 461h2v1h-2zM370 461h3v1h-3zM1185 461h2v1h-2zM363 462h2v1h-2zM373 462h2v1h-2zM1187 462h3v1h-3zM106 463h16v1h-16zM362 463h1v1h-1zM375 463h1v1h-1zM1190 463h2v1h-2zM103 464h3v1h-3zM122 464h8v1h-8zM360 464h2v1h-2zM376 464h2v1h-2zM1192 464h1v1h-1zM102 465h1v1h-1zM130 465h3v1h-3zM359 465h1v1h-1zM378 465h1v1h-1zM1193 465h1v1h-1zM133 466h2v1h-2zM358 466h1v1h-1zM379 466h1v1h-1zM1194 466h1v1h-1zM135 467h1v1h-1zM356 467h2v1h-2zM380 467h2v1h-2zM100 468h1v1h-1zM355 468h1v1h-1zM382 468h1v1h-1zM99 469h1v1h-1zM354 469h1v1h-1zM383 469h1v1h-1zM98 470h1v1h-1zM137 470h1v1h-1zM353 470h1v1h-1zM384 470h1v1h-1zM97 471h1v1h-1zM352 471h1v1h-1zM385 471h1v1h-1zM96 472h1v1h-1zM351 472h1v1h-1zM386 472h1v1h-1zM1009 472h1v1h-1zM95 473h1v1h-1zM139 473h3v1h-3zM350 473h1v1h-1zM387 473h2v1h-2zM94 474h1v1h-1zM142 474h3v1h-3zM349 474h1v1h-1zM389 474h2v1h-2zM419 474h4v1h-4zM93 475h1v1h-1zM145 475h2v1h-2zM348 475h1v1h-1zM391 475h7v1h-7zM1011 475h1v1h-1zM92 476h1v1h-1zM147 476h1v1h-1zM347 476h1v1h-1zM398 476h4v1h-4zM1012 476h1v1h-1zM91 477h1v1h-1zM148 477h1v1h-1zM402 477h3v1h-3zM89 478h2v1h-2zM149 478h1v1h-1zM405 478h2v1h-2zM87 479h2v1h-2zM150 479h1v1h-1zM159 479h1v1h-1zM345 479h1v1h-1zM407 479h2v1h-2zM1014 479h1v1h-1zM86 480h1v1h-1zM151 480h3v1h-3zM157 480h2v1h-2zM160 480h1v1h-1zM409 480h2v1h-2zM1015 480h1v1h-1zM67 481h15v1h-15zM84 481h2v1h-2zM154 481h3v1h-3zM161 481h1v1h-1zM411 481h5v1h-5zM1016 481h1v1h-1zM65 482h2v1h-2zM82 482h2v1h-2zM162 482h1v1h-1zM343 482h1v1h-1zM1017 482h1v1h-1zM63 483h2v1h-2zM163 483h1v1h-1zM342 483h1v1h-1zM1018 483h1v1h-1zM1267 483h1v1h-1zM62 484h1v1h-1zM164 484h2v1h-2zM341 484h1v1h-1zM1019 484h1v1h-1zM61 485h1v1h-1zM166 485h1v1h-1zM340 485h1v1h-1zM1020 485h1v1h-1zM60 486h1v1h-1zM167 486h1v1h-1zM339 486h1v1h-1zM59 487h1v1h-1zM168 487h2v1h-2zM338 487h1v1h-1zM58 488h1v1h-1zM170 488h1v1h-1zM1022 488h1v1h-1zM56 489h2v1h-2zM171 489h1v1h-1zM1023 489h1v1h-1zM55 490h1v1h-1zM172 490h1v1h-1zM336 490h1v1h-1zM1024 490h1v1h-1zM54 491h1v1h-1zM173 491h1v1h-1zM335 491h1v1h-1zM1025 491h1v1h-1zM52 492h2v1h-2zM174 492h1v1h-1zM334 492h1v1h-1zM1026 492h1v1h-1zM1042 492h3v1h-3zM51 493h1v1h-1zM175 493h1v1h-1zM333 493h1v1h-1zM1027 493h1v1h-1zM1039 493h3v1h-3zM1045 493h2v1h-2zM50 494h1v1h-1zM176 494h1v1h-1zM332 494h1v1h-1zM1028 494h2v1h-2zM1037 494h2v1h-2zM1047 494h1v1h-1zM1131 494h1v1h-1zM177 495h1v1h-1zM331 495h1v1h-1zM1030 495h1v1h-1zM1034 495h3v1h-3zM1048 495h1v1h-1zM1129 495h2v1h-2zM1231 495h2v1h-2zM178 496h1v1h-1zM330 496h1v1h-1zM1031 496h3v1h-3zM1049 496h1v1h-1zM1122 496h7v1h-7zM1229 496h2v1h-2zM1233 496h2v1h-2zM48 497h1v1h-1zM179 497h1v1h-1zM1050 497h1v1h-1zM1110 497h12v1h-12zM1227 497h2v1h-2zM1235 497h1v1h-1zM47 498h1v1h-1zM180 498h1v1h-1zM1051 498h1v1h-1zM1107 498h3v1h-3zM1226 498h1v1h-1zM46 499h1v1h-1zM181 499h1v1h-1zM328 499h1v1h-1zM1106 499h1v1h-1zM1225 499h1v1h-1zM45 500h1v1h-1zM182 500h1v1h-1zM327 500h1v1h-1zM1105 500h1v1h-1zM1224 500h1v1h-1zM44 501h1v1h-1zM183 501h1v1h-1zM326 501h1v1h-1zM1104 501h1v1h-1zM1223 501h1v1h-1zM43 502h1v1h-1zM184 502h1v1h-1zM206 502h3v1h-3zM325 502h1v1h-1zM1222 502h1v1h-1zM42 503h1v1h-1zM203 503h3v1h-3zM209 503h2v1h-2zM324 503h1v1h-1zM1220 503h2v1h-2zM40 504h2v1h-2zM202 504h1v1h-1zM211 504h1v1h-1zM323 504h1v1h-1zM1219 504h1v1h-1zM1239 504h1v1h-1zM39 505h1v1h-1zM186 505h1v1h-1zM200 505h2v1h-2zM212 505h1v1h-1zM322 505h1v1h-1zM1055 505h1v1h-1zM1240 505h2v1h-2zM1257 505h2v1h-2zM37 506h2v1h-2zM187 506h1v1h-1zM198 506h2v1h-2zM213 506h1v1h-1zM1242 506h1v1h-1zM1255 506h2v1h-2zM31 507h6v1h-6zM188 507h2v1h-2zM195 507h3v1h-3zM214 507h1v1h-1zM1243 507h2v1h-2zM1254 507h1v1h-1zM30 508h1v1h-1zM190 508h1v1h-1zM193 508h2v1h-2zM215 508h1v1h-1zM320 508h1v1h-1zM1245 508h2v1h-2zM1253 508h1v1h-1zM28 509h2v1h-2zM191 509h2v1h-2zM216 509h1v1h-1zM319 509h1v1h-1zM1247 509h3v1h-3zM1252 509h1v1h-1zM27 510h1v1h-1zM217 510h1v1h-1zM318 510h1v1h-1zM1211 510h3v1h-3zM1250 510h2v1h-2zM26 511h1v1h-1zM218 511h1v1h-1zM1214 511h2v1h-2zM25 512h1v1h-1zM24 513h1v1h-1zM316 513h1v1h-1zM1098 513h1v1h-1zM23 514h1v1h-1zM315 514h1v1h-1zM1097 514h1v1h-1zM22 515h1v1h-1zM314 515h1v1h-1zM1096 515h1v1h-1zM1094 516h2v1h-2zM1091 517h3v1h-3zM20 518h1v1h-1zM312 518h1v1h-1zM19 519h1v1h-1zM311 519h1v1h-1zM310 520h1v1h-1zM309 521h1v1h-1zM308 522h1v1h-1zM307 523h1v1h-1zM1065 524h1v1h-1zM15 526h1v1h-1zM305 526h1v1h-1zM1086 526h1v1h-1zM14 527h1v1h-1zM1067 527h1v1h-1zM1084 527h2v1h-2zM13 528h1v1h-1zM1068 528h1v1h-1zM1083 528h1v1h-1zM3 529h3v1h-3zM12 529h1v1h-1zM303 529h1v1h-1zM1069 529h1v1h-1zM1081 529h2v1h-2zM6 530h6v1h-6zM302 530h1v1h-1zM1070 530h1v1h-1zM1074 530h7v1h-7zM1071 531h3v1h-3zM274 532h3v1h-3zM271 533h3v1h-3zM277 533h2v1h-2zM300 533h1v1h-1zM270 534h1v1h-1zM279 534h3v1h-3zM298 534h2v1h-2zM269 535h1v1h-1zM282 535h16v1h-16zM268 536h1v1h-1zM267 537h1v1h-1zM266 538h1v1h-1zM265 539h1v1h-1zM264 540h1v1h-1zM263 541h1v1h-1zM262 542h1v1h-1zM260 543h2v1h-2zM259 544h1v1h-1zM233 545h1v1h-1zM235 548h1v1h-1zM237 551h1v1h-1zM255 551h1v1h-1zM254 552h1v1h-1zM239 554h1v1h-1zM240 555h2v1h-2zM252 555h1v1h-1zM242 556h1v1h-1zM250 556h2v1h-2zM243 557h7v1h-7z" fill="#ffa500" shape-rendering="crispEdges"/>
<path d="M341 505h1v2h-1zM345 500h1v2h-1zM349 495h1v2h-1zM353 490h1v2h-1zM357 485h1v2h-1zM460 445h1v2h-1zM462 442h1v2h-1zM463 440h1v2h-1zM464 437h1v3h-1zM465 434h1v3h-1zM466 431h1v3h-1zM467 428h1v3h-1zM468 425h1v3h-1zM469 421h1v4h-1zM470 418h1v3h-1zM471 415h1v3h-1zM472 412h1v3h-1zM473 409h1v3h-1zM474 406h1v3h-1zM475 403h1v3h-1zM476 400h1v3h-1zM477 397h1v3h-1zM478 394h1v3h-1zM479 391h1v3h-1zM480 388h1v3h-1zM481 385h1v3h-1zM482 382h1v3h-1zM483 379h1v3h-1zM484 376h1v3h-1zM485 373h1v3h-1zM486 370h1v3h-1zM487 366h1v4h-1zM488 362h1v4h-1zM489 358h1v4h-1zM490 354h1v4h-1zM491 350h1v4h-1zM492 345h1v5h-1zM493 340h1v5h-1zM494 335h1v5h-1zM495 329h1v6h-1zM496 322h1v7h-1zM497 315h1v7h-1zM498 308h1v7h-1zM499 301h1v7h-1zM500 295h1v6h-1zM501 289h1v6h-1zM502 283h1v6h-1zM503 277h1v6h-1zM504 271h1v6h-1zM505 265h1v6h-1zM506 259h1v6h-1zM507 254h1v5h-1zM508 248h1v6h-1zM509 243h1v5h-1zM510 237h1v6h-1zM511 232h1v5h-1zM512 226h1v6h-1zM513 221h1v5h-1zM514 215h1v6h-1zM515 210h1v5h-1zM516 206h1v4h-1zM517 202h1v4h-1zM518 198h1v4h-1zM519 195h1v3h-1zM520 193h1v2h-1zM521 191h1v2h-1zM522 189h1v2h-1zM524 186h1v2h-1zM525 184h1v2h-1zM526 182h1v2h-1zM537 174h1v2h-1zM547 168h1v2h-1zM548 170h1v2h-1zM549 172h1v2h-1zM550 174h1v2h-1zM551 176h1v2h-1zM552 178h1v2h-1zM553 180h1v2h-1zM554 182h1v2h-1zM557 186h1v2h-1zM559 189h1v2h-1zM560 191h1v2h-1zM561 193h1v2h-1zM562 195h1v2h-1zM563 197h1v3h-1zM564 200h1v3h-1zM565 203h1v3h-1zM566 206h1v3h-1zM567 209h1v3h-1zM568 212h1v3h-1zM569 215h1v3h-1zM570 218h1v3h-1zM571 221h1v2h-1zM572 223h1v2h-1zM574 226h1v2h-1zM733 255h1v2h-1zM736 259h1v2h-1zM738 262h1v2h-1zM740 265h1v2h-1zM741 267h1v2h-1zM742 269h1v2h-1zM743 271h1v2h-1zM744 273h1v2h-1zM745 275h1v2h-1zM746 277h1v2h-1zM747 279h1v2h-1zM748 281h1v2h-1zM749 283h1v2h-1zM750 285h1v2h-1zM751 287h1v3h-1zM752 290h1v2h-1zM753 292h1v2h-1zM754 294h1v2h-1zM755 296h1v2h-1zM756 298h1v3h-1zM757 301h1v3h-1zM758 304h1v3h-1zM759 307h1v3h-1zM760 310h1v2h-1zM761 312h1v3h-1zM762 315h1v2h-1zM763 317h1v3h-1zM764 320h1v2h-1zM765 322h1v3h-1zM766 325h1v2h-1zM767 327h1v3h-1zM768 330h1v2h-1zM769 332h1v3h-1zM770 335h1v2h-1zM771 337h1v3h-1zM772 340h1v4h-1zM773 344h1v3h-1zM774 347h1v4h-1zM775 351h1v3h-1zM776 354h1v4h-1zM777 358h1v3h-1zM778 361h1v4h-1zM779 365h1v3h-1zM780 368h1v2h-1zM781 370h1v3h-1zM782 373h1v2h-1zM783 375h1v2h-1zM785 378h1v2h-1zM789 383h1v2h-1zM829 386h1v2h-1zM831 383h1v2h-1zM832 381h1v2h-1zM833 379h1v2h-1zM834 377h1v2h-1zM945 404h1v2h-1zM961 419h1v2h-1zM1021 465h1v2h-1zM1045 485h1v2h-1zM1061 499h1v2h-1zM1136 497h1v2h-1zM1138 494h1v2h-1zM1140 491h1v2h-1zM1142 488h1v2h-1zM1145 484h1v2h-1zM1148 480h1v2h-1zM1150 477h1v2h-1zM1200 457h1v2h-1zM1202 460h1v2h-1zM1204 463h1v2h-1zM1206 466h1v2h-1zM1208 469h1v2h-1zM1210 472h1v2h-1zM1213 476h1v2h-1zM1229 491h1v2h-1zM1260 501h1v2h-1zM1262 498h1v2h-1zM543 168h4v1h-4zM542 169h1v1h-1zM541 170h1v1h-1zM540 171h1v1h-1zM539 172h1v1h-1zM538 173h1v1h-1zM536 176h1v1h-1zM535 177h1v1h-1zM534 178h1v1h-1zM532 179h2v1h-2zM530 180h2v1h-2zM527 181h3v1h-3zM555 184h1v1h-1zM556 185h1v1h-1zM523 188h1v1h-1zM558 188h1v1h-1zM573 225h1v1h-1zM575 228h2v1h-2zM577 229h2v1h-2zM579 230h1v1h-1zM580 231h2v1h-2zM582 232h1v1h-1zM583 233h3v1h-3zM586 234h7v1h-7zM631 234h19v1h-19zM593 235h2v1h-2zM629 235h2v1h-2zM650 235h8v1h-8zM595 236h1v1h-1zM627 236h2v1h-2zM658 236h8v1h-8zM596 237h2v1h-2zM625 237h2v1h-2zM666 237h2v1h-2zM598 238h1v1h-1zM623 238h2v1h-2zM668 238h2v1h-2zM599 239h2v1h-2zM621 239h2v1h-2zM670 239h1v1h-1zM699 239h3v1h-3zM601 240h2v1h-2zM618 240h3v1h-3zM671 240h1v1h-1zM698 240h1v1h-1zM702 240h2v1h-2zM603 241h3v1h-3zM614 241h4v1h-4zM672 241h1v1h-1zM696 241h2v1h-2zM704 241h1v1h-1zM606 242h8v1h-8zM673 242h1v1h-1zM695 242h1v1h-1zM705 242h1v1h-1zM674 243h1v1h-1zM694 243h1v1h-1zM706 243h1v1h-1zM675 244h3v1h-3zM692 244h2v1h-2zM707 244h1v1h-1zM678 245h4v1h-4zM691 245h1v1h-1zM708 245h2v1h-2zM682 246h3v1h-3zM690 246h1v1h-1zM710 246h1v1h-1zM685 247h2v1h-2zM688 247h2v1h-2zM711 247h2v1h-2zM687 248h1v1h-1zM713 248h2v1h-2zM715 249h2v1h-2zM717 250h2v1h-2zM719 251h3v1h-3zM726 251h3v1h-3zM722 252h4v1h-4zM729 252h2v1h-2zM731 253h1v1h-1zM732 254h1v1h-1zM734 257h1v1h-1zM735 258h1v1h-1zM737 261h1v1h-1zM739 264h1v1h-1zM847 368h18v1h-18zM845 369h2v1h-2zM865 369h2v1h-2zM843 370h2v1h-2zM867 370h7v1h-7zM878 370h12v1h-12zM841 371h2v1h-2zM874 371h4v1h-4zM890 371h3v1h-3zM839 372h2v1h-2zM893 372h2v1h-2zM838 373h1v1h-1zM895 373h2v1h-2zM837 374h1v1h-1zM897 374h2v1h-2zM836 375h1v1h-1zM899 375h1v1h-1zM835 376h1v1h-1zM900 376h2v1h-2zM784 377h1v1h-1zM902 377h1v1h-1zM903 378h2v1h-2zM905 379h2v1h-2zM786 380h1v1h-1zM907 380h3v1h-3zM787 381h1v1h-1zM910 381h7v1h-7zM788 382h1v1h-1zM917 382h2v1h-2zM919 383h1v1h-1zM920 384h2v1h-2zM790 385h1v1h-1zM830 385h1v1h-1zM922 385h1v1h-1zM791 386h1v1h-1zM923 386h1v1h-1zM792 387h1v1h-1zM924 387h2v1h-2zM793 388h1v1h-1zM828 388h1v1h-1zM926 388h1v1h-1zM794 389h1v1h-1zM827 389h1v1h-1zM927 389h1v1h-1zM795 390h1v1h-1zM825 390h2v1h-2zM928 390h2v1h-2zM796 391h1v1h-1zM823 391h2v1h-2zM930 391h1v1h-1zM797 392h1v1h-1zM821 392h2v1h-2zM931 392h1v1h-1zM798 393h1v1h-1zM819 393h2v1h-2zM932 393h2v1h-2zM799 394h1v1h-1zM817 394h2v1h-2zM934 394h1v1h-1zM800 395h1v1h-1zM815 395h2v1h-2zM935 395h1v1h-1zM801 396h1v1h-1zM813 396h2v1h-2zM936 396h2v1h-2zM802 397h1v1h-1zM811 397h2v1h-2zM938 397h1v1h-1zM803 398h3v1h-3zM809 398h2v1h-2zM939 398h1v1h-1zM806 399h3v1h-3zM940 399h1v1h-1zM941 400h1v1h-1zM942 401h1v1h-1zM943 402h1v1h-1zM944 403h1v1h-1zM946 406h1v1h-1zM947 407h1v1h-1zM948 408h1v1h-1zM949 409h1v1h-1zM950 410h1v1h-1zM951 411h2v1h-2zM953 412h2v1h-2zM955 413h1v1h-1zM956 414h1v1h-1zM957 415h1v1h-1zM958 416h1v1h-1zM959 417h1v1h-1zM960 418h1v1h-1zM962 421h1v1h-1zM963 422h1v1h-1zM964 423h1v1h-1zM965 424h1v1h-1zM966 425h1v1h-1zM967 426h1v1h-1zM968 427h1v1h-1zM969 428h1v1h-1zM970 429h1v1h-1zM971 430h1v1h-1zM972 431h1v1h-1zM973 432h1v1h-1zM974 433h1v1h-1zM975 434h1v1h-1zM976 435h1v1h-1zM977 436h1v1h-1zM978 437h1v1h-1zM979 438h3v1h-3zM982 439h8v1h-8zM990 440h2v1h-2zM992 441h2v1h-2zM994 442h1v1h-1zM995 443h1v1h-1zM461 444h1v1h-1zM996 444h2v1h-2zM998 445h1v1h-1zM999 446h1v1h-1zM459 447h1v1h-1zM1000 447h2v1h-2zM458 448h1v1h-1zM1002 448h1v1h-1zM457 449h1v1h-1zM1003 449h1v1h-1zM1187 449h5v1h-5zM456 450h1v1h-1zM1004 450h2v1h-2zM1185 450h2v1h-2zM1192 450h2v1h-2zM455 451h1v1h-1zM1006 451h1v1h-1zM1183 451h2v1h-2zM1194 451h1v1h-1zM454 452h1v1h-1zM1007 452h1v1h-1zM1181 452h2v1h-2zM1195 452h1v1h-1zM453 453h1v1h-1zM1008 453h1v1h-1zM1179 453h2v1h-2zM1196 453h1v1h-1zM452 454h1v1h-1zM1009 454h1v1h-1zM1177 454h2v1h-2zM1197 454h1v1h-1zM451 455h1v1h-1zM1010 455h1v1h-1zM1175 455h2v1h-2zM1198 455h1v1h-1zM450 456h1v1h-1zM1011 456h1v1h-1zM1174 456h1v1h-1zM1199 456h1v1h-1zM448 457h2v1h-2zM1012 457h2v1h-2zM1172 457h2v1h-2zM447 458h1v1h-1zM1014 458h1v1h-1zM1171 458h1v1h-1zM446 459h1v1h-1zM1015 459h1v1h-1zM1169 459h2v1h-2zM1201 459h1v1h-1zM445 460h1v1h-1zM1016 460h1v1h-1zM1167 460h2v1h-2zM444 461h1v1h-1zM1017 461h1v1h-1zM1166 461h1v1h-1zM443 462h1v1h-1zM1018 462h1v1h-1zM1165 462h1v1h-1zM1203 462h1v1h-1zM441 463h2v1h-2zM1019 463h1v1h-1zM1164 463h1v1h-1zM439 464h2v1h-2zM1020 464h1v1h-1zM1163 464h1v1h-1zM437 465h2v1h-2zM1162 465h1v1h-1zM1205 465h1v1h-1zM131 466h7v1h-7zM435 466h2v1h-2zM1161 466h1v1h-1zM129 467h2v1h-2zM138 467h4v1h-4zM434 467h1v1h-1zM1022 467h1v1h-1zM1160 467h1v1h-1zM127 468h2v1h-2zM142 468h8v1h-8zM390 468h8v1h-8zM432 468h2v1h-2zM1023 468h1v1h-1zM1159 468h1v1h-1zM1207 468h1v1h-1zM125 469h2v1h-2zM150 469h3v1h-3zM382 469h8v1h-8zM398 469h4v1h-4zM431 469h1v1h-1zM1024 469h1v1h-1zM1158 469h1v1h-1zM118 470h7v1h-7zM153 470h2v1h-2zM378 470h4v1h-4zM402 470h4v1h-4zM430 470h1v1h-1zM1025 470h1v1h-1zM1157 470h1v1h-1zM115 471h3v1h-3zM155 471h2v1h-2zM375 471h3v1h-3zM406 471h3v1h-3zM428 471h2v1h-2zM1026 471h1v1h-1zM1156 471h1v1h-1zM1209 471h1v1h-1zM113 472h2v1h-2zM157 472h2v1h-2zM373 472h2v1h-2zM409 472h2v1h-2zM427 472h1v1h-1zM1027 472h3v1h-3zM1155 472h1v1h-1zM110 473h3v1h-3zM159 473h2v1h-2zM371 473h2v1h-2zM411 473h6v1h-6zM425 473h2v1h-2zM1030 473h3v1h-3zM1154 473h1v1h-1zM106 474h4v1h-4zM161 474h2v1h-2zM369 474h2v1h-2zM417 474h2v1h-2zM422 474h3v1h-3zM1033 474h2v1h-2zM1153 474h1v1h-1zM1211 474h1v1h-1zM103 475h3v1h-3zM163 475h2v1h-2zM367 475h2v1h-2zM419 475h3v1h-3zM1035 475h1v1h-1zM1152 475h1v1h-1zM1212 475h1v1h-1zM101 476h2v1h-2zM165 476h2v1h-2zM366 476h1v1h-1zM1036 476h1v1h-1zM1151 476h1v1h-1zM99 477h2v1h-2zM167 477h2v1h-2zM365 477h1v1h-1zM1037 477h1v1h-1zM98 478h1v1h-1zM169 478h2v1h-2zM364 478h1v1h-1zM1038 478h1v1h-1zM1214 478h1v1h-1zM96 479h2v1h-2zM171 479h1v1h-1zM363 479h1v1h-1zM1039 479h1v1h-1zM1149 479h1v1h-1zM1215 479h1v1h-1zM95 480h1v1h-1zM172 480h2v1h-2zM362 480h1v1h-1zM1040 480h1v1h-1zM1216 480h2v1h-2zM94 481h1v1h-1zM174 481h1v1h-1zM361 481h1v1h-1zM1041 481h1v1h-1zM1218 481h1v1h-1zM92 482h2v1h-2zM175 482h2v1h-2zM360 482h1v1h-1zM1042 482h1v1h-1zM1147 482h1v1h-1zM1219 482h1v1h-1zM91 483h1v1h-1zM177 483h2v1h-2zM359 483h1v1h-1zM1043 483h1v1h-1zM1146 483h1v1h-1zM1220 483h2v1h-2zM89 484h2v1h-2zM179 484h1v1h-1zM358 484h1v1h-1zM1044 484h1v1h-1zM1222 484h1v1h-1zM87 485h2v1h-2zM180 485h1v1h-1zM1223 485h1v1h-1zM86 486h1v1h-1zM181 486h1v1h-1zM1144 486h1v1h-1zM1224 486h1v1h-1zM84 487h2v1h-2zM182 487h1v1h-1zM356 487h1v1h-1zM1046 487h1v1h-1zM1143 487h1v1h-1zM1225 487h1v1h-1zM83 488h1v1h-1zM183 488h1v1h-1zM355 488h1v1h-1zM1047 488h1v1h-1zM1226 488h1v1h-1zM81 489h2v1h-2zM184 489h1v1h-1zM354 489h1v1h-1zM1048 489h1v1h-1zM1227 489h1v1h-1zM79 490h2v1h-2zM185 490h1v1h-1zM1049 490h1v1h-1zM1141 490h1v1h-1zM1228 490h1v1h-1zM77 491h2v1h-2zM186 491h1v1h-1zM1050 491h1v1h-1zM74 492h3v1h-3zM187 492h3v1h-3zM352 492h1v1h-1zM1051 492h1v1h-1zM71 493h3v1h-3zM190 493h4v1h-4zM351 493h1v1h-1zM1052 493h2v1h-2zM1139 493h1v1h-1zM1230 493h1v1h-1zM69 494h2v1h-2zM194 494h4v1h-4zM350 494h1v1h-1zM1054 494h1v1h-1zM1231 494h3v1h-3zM67 495h2v1h-2zM198 495h3v1h-3zM1055 495h2v1h-2zM1234 495h3v1h-3zM66 496h1v1h-1zM201 496h2v1h-2zM1057 496h2v1h-2zM1137 496h1v1h-1zM1237 496h2v1h-2zM1266 496h2v1h-2zM64 497h2v1h-2zM203 497h2v1h-2zM348 497h1v1h-1zM1059 497h1v1h-1zM1239 497h1v1h-1zM1263 497h3v1h-3zM63 498h1v1h-1zM205 498h2v1h-2zM347 498h1v1h-1zM1060 498h1v1h-1zM1240 498h1v1h-1zM62 499h1v1h-1zM207 499h2v1h-2zM346 499h1v1h-1zM1135 499h1v1h-1zM1241 499h1v1h-1zM61 500h1v1h-1zM209 500h2v1h-2zM1134 500h1v1h-1zM1242 500h1v1h-1zM1261 500h1v1h-1zM60 501h1v1h-1zM211 501h1v1h-1zM1062 501h1v1h-1zM1133 501h1v1h-1zM1243 501h1v1h-1zM59 502h1v1h-1zM212 502h2v1h-2zM344 502h1v1h-1zM1063 502h1v1h-1zM1132 502h1v1h-1zM1244 502h2v1h-2zM58 503h1v1h-1zM214 503h1v1h-1zM343 503h1v1h-1zM1064 503h1v1h-1zM1131 503h1v1h-1zM1246 503h1v1h-1zM1258 503h2v1h-2zM56 504h2v1h-2zM215 504h1v1h-1zM342 504h1v1h-1zM1065 504h1v1h-1zM1129 504h2v1h-2zM1247 504h2v1h-2zM1255 504h3v1h-3zM55 505h1v1h-1zM216 505h2v1h-2zM1066 505h1v1h-1zM1127 505h2v1h-2zM1249 505h2v1h-2zM1253 505h2v1h-2zM54 506h1v1h-1zM218 506h1v1h-1zM1067 506h1v1h-1zM1125 506h2v1h-2zM1251 506h2v1h-2zM53 507h1v1h-1zM219 507h1v1h-1zM340 507h1v1h-1zM1068 507h2v1h-2zM1123 507h2v1h-2zM52 508h1v1h-1zM220 508h2v1h-2zM339 508h1v1h-1zM1070 508h1v1h-1zM1122 508h1v1h-1zM51 509h1v1h-1zM222 509h1v1h-1zM338 509h1v1h-1zM1071 509h5v1h-5zM1120 509h2v1h-2zM50 510h1v1h-1zM223 510h1v1h-1zM337 510h1v1h-1zM1076 510h2v1h-2zM1119 510h1v1h-1zM3 511h1v1h-1zM48 511h2v1h-2zM224 511h1v1h-1zM336 511h1v1h-1zM1078 511h1v1h-1zM1118 511h1v1h-1zM4 512h2v1h-2zM47 512h1v1h-1zM225 512h1v1h-1zM335 512h1v1h-1zM1079 512h1v1h-1zM1116 512h2v1h-2zM6 513h1v1h-1zM45 513h2v1h-2zM226 513h1v1h-1zM334 513h1v1h-1zM1080 513h2v1h-2zM1115 513h1v1h-1zM7 514h2v1h-2zM43 514h2v1h-2zM227 514h1v1h-1zM332 514h2v1h-2zM1082 514h1v1h-1zM1113 514h2v1h-2zM9 515h2v1h-2zM41 515h2v1h-2zM228 515h1v1h-1zM331 515h1v1h-1zM1083 515h2v1h-2zM1111 515h2v1h-2zM11 516h5v1h-5zM39 516h2v1h-2zM229 516h1v1h-1zM330 516h1v1h-1zM1085 516h2v1h-2zM1109 516h2v1h-2zM16 517h2v1h-2zM38 517h1v1h-1zM230 517h1v1h-1zM328 517h2v1h-2zM1087 517h6v1h-6zM1107 517h2v1h-2zM18 518h1v1h-1zM36 518h2v1h-2zM231 518h1v1h-1zM327 518h1v1h-1zM1093 518h2v1h-2zM1105 518h2v1h-2zM19 519h17v1h-17zM232 519h1v1h-1zM326 519h1v1h-1zM1095 519h3v1h-3zM1102 519h3v1h-3zM233 520h1v1h-1zM325 520h1v1h-1zM1098 520h4v1h-4zM234 521h1v1h-1zM324 521h1v1h-1zM235 522h1v1h-1zM323 522h1v1h-1zM236 523h1v1h-1zM321 523h2v1h-2zM237 524h1v1h-1zM319 524h2v1h-2zM238 525h1v1h-1zM318 525h1v1h-1zM239 526h1v1h-1zM316 526h2v1h-2zM240 527h2v1h-2zM314 527h2v1h-2zM242 528h1v1h-1zM311 528h3v1h-3zM243 529h1v1h-1zM309 529h2v1h-2zM244 530h2v1h-2zM307 530h2v1h-2zM246 531h1v1h-1zM305 531h2v1h-2zM247 532h1v1h-1zM303 532h2v1h-2zM248 533h1v1h-1zM302 533h1v1h-1zM249 534h1v1h-1zM301 534h1v1h-1zM250 535h1v1h-1zM300 535h1v1h-1zM251 536h2v1h-2zM299 536h1v1h-1zM253 537h2v1h-2zM297 537h2v1h-2zM255 538h2v1h-2zM294 538h3v1h-3zM257 539h2v1h-2zM291 539h3v1h-3zM259 540h1v1h-1zM289 540h2v1h-2zM260 541h2v1h-2zM287 541h2v1h-2zM262 542h1v1h-1zM285 542h2v1h-2zM263 543h3v1h-3zM282 543h3v1h-3zM266 544h16v1h-16z" fill="#ff0000" shape-rendering="crispEdges"/>
<path d="M473 445h1v2h-1zM476 441h1v2h-1zM478 438h1v2h-1zM480 435h1v2h-1zM481 433h1v2h-1zM482 431h1v2h-1zM483 429h1v2h-1zM484 427h1v2h-1zM485 425h1v2h-1zM486 423h1v2h-1zM487 421h1v2h-1zM488 419h1v2h-1zM489 417h1v2h-1zM490 415h1v2h-1zM491 413h1v2h-1zM492 410h1v3h-1zM493 406h1v4h-1zM494 403h1v3h-1zM495 400h1v3h-1zM496 397h1v3h-1zM497 393h1v4h-1zM498 390h1v3h-1zM499 387h1v3h-1zM500 384h1v3h-1zM501 381h1v3h-1zM502 378h1v3h-1zM503 375h1v3h-1zM504 372h1v3h-1zM505 368h1v4h-1zM506 365h1v3h-1zM507 362h1v3h-1zM508 359h1v3h-1zM509 356h1v3h-1zM510 353h1v3h-1zM511 350h1v3h-1zM512 348h1v2h-1zM513 345h1v3h-1zM514 343h1v2h-1zM515 340h1v3h-1zM516 337h1v3h-1zM517 335h1v2h-1zM518 332h1v3h-1zM519 329h1v3h-1zM520 327h1v2h-1zM521 324h1v3h-1zM522 322h1v2h-1zM523 320h1v2h-1zM524 318h1v2h-1zM525 316h1v2h-1zM526 314h1v2h-1zM527 312h1v2h-1zM528 310h1v2h-1zM529 308h1v2h-1zM530 306h1v2h-1zM531 304h1v2h-1zM532 302h1v2h-1zM533 300h1v2h-1zM534 298h1v2h-1zM535 296h1v2h-1zM536 294h1v2h-1zM537 292h1v2h-1zM538 290h1v2h-1zM539 287h1v3h-1zM540 285h1v2h-1zM541 283h1v2h-1zM542 281h1v2h-1zM543 278h1v3h-1zM544 276h1v2h-1zM545 274h1v2h-1zM546 272h1v2h-1zM547 270h1v2h-1zM548 268h1v2h-1zM549 266h1v2h-1zM550 264h1v2h-1zM551 262h1v2h-1zM552 260h1v2h-1zM553 258h1v2h-1zM554 256h1v2h-1zM555 254h1v2h-1zM556 252h1v2h-1zM557 250h1v2h-1zM558 248h1v2h-1zM560 245h1v2h-1zM561 243h1v2h-1zM562 241h1v2h-1zM564 238h1v2h-1zM565 236h1v2h-1zM566 234h1v2h-1zM568 231h1v2h-1zM570 228h1v2h-1zM573 224h1v2h-1zM629 221h1v2h-1zM633 226h1v2h-1zM745 258h1v2h-1zM749 263h1v2h-1zM753 268h1v2h-1zM757 273h1v2h-1zM765 282h1v2h-1zM769 287h1v2h-1zM772 291h1v2h-1zM773 293h1v2h-1zM774 295h1v2h-1zM776 298h1v2h-1zM778 301h1v2h-1zM780 304h1v2h-1zM781 306h1v2h-1zM782 308h1v2h-1zM797 323h1v2h-1zM805 332h1v2h-1zM809 337h1v2h-1zM813 342h1v2h-1zM817 347h1v2h-1zM602 206h10v1h-10zM598 207h4v1h-4zM612 207h2v1h-2zM595 208h3v1h-3zM614 208h1v1h-1zM593 209h2v1h-2zM615 209h1v1h-1zM591 210h2v1h-2zM616 210h2v1h-2zM590 211h1v1h-1zM618 211h1v1h-1zM588 212h2v1h-2zM619 212h1v1h-1zM587 213h1v1h-1zM620 213h1v1h-1zM585 214h2v1h-2zM621 214h1v1h-1zM583 215h2v1h-2zM622 215h1v1h-1zM582 216h1v1h-1zM623 216h1v1h-1zM580 217h2v1h-2zM624 217h2v1h-2zM579 218h1v1h-1zM626 218h1v1h-1zM578 219h1v1h-1zM627 219h1v1h-1zM577 220h1v1h-1zM628 220h1v1h-1zM576 221h1v1h-1zM575 222h1v1h-1zM574 223h1v1h-1zM630 223h1v1h-1zM631 224h1v1h-1zM632 225h1v1h-1zM572 226h1v1h-1zM571 227h1v1h-1zM634 228h1v1h-1zM635 229h1v1h-1zM569 230h1v1h-1zM636 230h2v1h-2zM638 231h1v1h-1zM639 232h2v1h-2zM567 233h1v1h-1zM641 233h2v1h-2zM643 234h15v1h-15zM658 235h4v1h-4zM662 236h4v1h-4zM666 237h3v1h-3zM702 237h7v1h-7zM669 238h2v1h-2zM698 238h4v1h-4zM709 238h2v1h-2zM671 239h2v1h-2zM694 239h4v1h-4zM711 239h2v1h-2zM563 240h1v1h-1zM673 240h2v1h-2zM690 240h4v1h-4zM713 240h2v1h-2zM675 241h3v1h-3zM686 241h4v1h-4zM715 241h3v1h-3zM678 242h8v1h-8zM718 242h8v1h-8zM726 243h2v1h-2zM728 244h2v1h-2zM730 245h1v1h-1zM731 246h1v1h-1zM559 247h1v1h-1zM732 247h1v1h-1zM733 248h1v1h-1zM734 249h1v1h-1zM735 250h1v1h-1zM736 251h2v1h-2zM738 252h1v1h-1zM739 253h1v1h-1zM740 254h2v1h-2zM742 255h1v1h-1zM743 256h1v1h-1zM744 257h1v1h-1zM746 260h1v1h-1zM747 261h1v1h-1zM748 262h1v1h-1zM750 265h1v1h-1zM751 266h1v1h-1zM752 267h1v1h-1zM754 270h1v1h-1zM755 271h1v1h-1zM756 272h1v1h-1zM758 275h1v1h-1zM759 276h1v1h-1zM760 277h1v1h-1zM761 278h1v1h-1zM762 279h1v1h-1zM763 280h1v1h-1zM764 281h1v1h-1zM766 284h1v1h-1zM767 285h1v1h-1zM768 286h1v1h-1zM770 289h1v1h-1zM771 290h1v1h-1zM775 297h1v1h-1zM777 300h1v1h-1zM779 303h1v1h-1zM783 310h1v1h-1zM784 311h1v1h-1zM785 312h1v1h-1zM786 313h1v1h-1zM787 314h1v1h-1zM788 315h2v1h-2zM790 316h1v1h-1zM791 317h1v1h-1zM792 318h1v1h-1zM793 319h1v1h-1zM794 320h1v1h-1zM795 321h1v1h-1zM796 322h1v1h-1zM798 325h1v1h-1zM799 326h1v1h-1zM800 327h1v1h-1zM801 328h1v1h-1zM802 329h1v1h-1zM803 330h1v1h-1zM804 331h1v1h-1zM806 334h1v1h-1zM807 335h1v1h-1zM808 336h1v1h-1zM810 339h1v1h-1zM811 340h1v1h-1zM812 341h1v1h-1zM814 344h1v1h-1zM815 345h1v1h-1zM816 346h1v1h-1zM818 349h1v1h-1zM819 350h1v1h-1zM820 351h1v1h-1zM821 352h1v1h-1zM822 353h1v1h-1zM823 354h1v1h-1zM824 355h1v1h-1zM825 356h1v1h-1zM826 357h1v1h-1zM827 358h1v1h-1zM828 359h2v1h-2zM830 360h1v1h-1zM831 361h2v1h-2zM833 362h2v1h-2zM835 363h1v1h-1zM836 364h1v1h-1zM837 365h1v1h-1zM838 366h1v1h-1zM839 367h1v1h-1zM840 368h2v1h-2zM842 369h1v1h-1zM843 370h2v1h-2zM845 371h2v1h-2zM847 372h2v1h-2zM849 373h2v1h-2zM851 374h2v1h-2zM902 374h16v1h-16zM853 375h2v1h-2zM899 375h3v1h-3zM918 375h4v1h-4zM855 376h1v1h-1zM897 376h2v1h-2zM922 376h3v1h-3zM856 377h2v1h-2zM894 377h3v1h-3zM925 377h2v1h-2zM858 378h1v1h-1zM891 378h3v1h-3zM927 378h2v1h-2zM859 379h2v1h-2zM889 379h2v1h-2zM929 379h2v1h-2zM861 380h2v1h-2zM887 380h2v1h-2zM931 380h2v1h-2zM863 381h3v1h-3zM885 381h2v1h-2zM933 381h2v1h-2zM866 382h3v1h-3zM878 382h7v1h-7zM935 382h2v1h-2zM869 383h2v1h-2zM874 383h4v1h-4zM937 383h2v1h-2zM871 384h3v1h-3zM939 384h2v1h-2zM941 385h2v1h-2zM943 386h3v1h-3zM946 387h4v1h-4zM950 388h2v1h-2zM952 389h2v1h-2zM954 390h1v1h-1zM955 391h1v1h-1zM956 392h2v1h-2zM958 393h1v1h-1zM959 394h1v1h-1zM960 395h2v1h-2zM962 396h1v1h-1zM963 397h1v1h-1zM964 398h2v1h-2zM966 399h1v1h-1zM967 400h1v1h-1zM968 401h2v1h-2zM970 402h1v1h-1zM971 403h1v1h-1zM972 404h2v1h-2zM974 405h1v1h-1zM975 406h1v1h-1zM976 407h2v1h-2zM978 408h1v1h-1zM979 409h2v1h-2zM981 410h2v1h-2zM983 411h3v1h-3zM986 412h3v1h-3zM989 413h2v1h-2zM991 414h2v1h-2zM993 415h2v1h-2zM995 416h1v1h-1zM996 417h1v1h-1zM997 418h1v1h-1zM998 419h1v1h-1zM999 420h1v1h-1zM1000 421h1v1h-1zM1001 422h1v1h-1zM1002 423h1v1h-1zM1003 424h1v1h-1zM1004 425h2v1h-2zM1006 426h1v1h-1zM1007 427h1v1h-1zM1008 428h1v1h-1zM1009 429h1v1h-1zM1010 430h1v1h-1zM1011 431h1v1h-1zM1012 432h1v1h-1zM1013 433h1v1h-1zM1014 434h1v1h-1zM1015 435h1v1h-1zM1016 436h1v1h-1zM479 437h1v1h-1zM1017 437h1v1h-1zM1018 438h1v1h-1zM1019 439h1v1h-1zM477 440h1v1h-1zM1020 440h1v1h-1zM1021 441h1v1h-1zM1022 442h1v1h-1zM475 443h1v1h-1zM1023 443h1v1h-1zM474 444h1v1h-1zM1024 444h2v1h-2zM1026 445h1v1h-1zM1027 446h1v1h-1zM472 447h1v1h-1zM1028 447h1v1h-1zM471 448h1v1h-1zM1029 448h1v1h-1zM470 449h1v1h-1zM1030 449h1v1h-1zM469 450h1v1h-1zM1031 450h1v1h-1zM468 451h1v1h-1zM1032 451h1v1h-1zM467 452h1v1h-1zM1033 452h1v1h-1zM466 453h1v1h-1zM1034 453h1v1h-1zM465 454h1v1h-1zM1035 454h2v1h-2zM464 455h1v1h-1zM1037 455h2v1h-2zM463 456h1v1h-1zM1039 456h1v1h-1zM461 457h2v1h-2zM1040 457h2v1h-2zM459 458h2v1h-2zM1042 458h1v1h-1zM458 459h1v1h-1zM1043 459h1v1h-1zM456 460h2v1h-2zM1044 460h2v1h-2zM455 461h1v1h-1zM1046 461h1v1h-1zM453 462h2v1h-2zM1047 462h1v1h-1zM451 463h2v1h-2zM1048 463h2v1h-2zM449 464h2v1h-2zM1050 464h1v1h-1zM447 465h2v1h-2zM1051 465h1v1h-1zM445 466h2v1h-2zM1052 466h2v1h-2zM442 467h3v1h-3zM1054 467h1v1h-1zM439 468h3v1h-3zM1055 468h1v1h-1zM437 469h2v1h-2zM1056 469h1v1h-1zM435 470h2v1h-2zM1057 470h1v1h-1zM434 471h1v1h-1zM1058 471h1v1h-1zM432 472h2v1h-2zM1059 472h1v1h-1zM431 473h1v1h-1zM1060 473h2v1h-2zM430 474h1v1h-1zM1062 474h1v1h-1zM1218 474h12v1h-12zM162 475h8v1h-8zM428 475h2v1h-2zM1063 475h1v1h-1zM1202 475h16v1h-16zM1230 475h4v1h-4zM154 476h8v1h-8zM170 476h8v1h-8zM427 476h1v1h-1zM1064 476h2v1h-2zM1194 476h8v1h-8zM1234 476h8v1h-8zM146 477h8v1h-8zM178 477h4v1h-4zM425 477h2v1h-2zM1066 477h1v1h-1zM1191 477h3v1h-3zM1242 477h4v1h-4zM142 478h4v1h-4zM182 478h4v1h-4zM423 478h2v1h-2zM1067 478h2v1h-2zM1190 478h1v1h-1zM1246 478h8v1h-8zM138 479h4v1h-4zM186 479h4v1h-4zM421 479h2v1h-2zM1069 479h2v1h-2zM1188 479h2v1h-2zM1254 479h4v1h-4zM134 480h4v1h-4zM190 480h4v1h-4zM419 480h2v1h-2zM1071 480h1v1h-1zM1187 480h1v1h-1zM1258 480h7v1h-7zM131 481h3v1h-3zM194 481h8v1h-8zM417 481h2v1h-2zM1072 481h2v1h-2zM1185 481h2v1h-2zM1265 481h2v1h-2zM129 482h2v1h-2zM202 482h3v1h-3zM415 482h2v1h-2zM1074 482h1v1h-1zM1183 482h2v1h-2zM1267 482h1v1h-1zM127 483h2v1h-2zM205 483h2v1h-2zM413 483h2v1h-2zM1075 483h1v1h-1zM1182 483h1v1h-1zM125 484h2v1h-2zM207 484h3v1h-3zM410 484h3v1h-3zM1076 484h2v1h-2zM1180 484h2v1h-2zM123 485h2v1h-2zM210 485h3v1h-3zM407 485h3v1h-3zM1078 485h1v1h-1zM1179 485h1v1h-1zM3 486h1v1h-1zM121 486h2v1h-2zM213 486h2v1h-2zM405 486h2v1h-2zM1079 486h1v1h-1zM1177 486h2v1h-2zM4 487h2v1h-2zM119 487h2v1h-2zM215 487h3v1h-3zM403 487h2v1h-2zM1080 487h1v1h-1zM1175 487h2v1h-2zM6 488h1v1h-1zM117 488h2v1h-2zM218 488h2v1h-2zM401 488h2v1h-2zM1081 488h1v1h-1zM1173 488h2v1h-2zM7 489h3v1h-3zM115 489h2v1h-2zM220 489h2v1h-2zM399 489h2v1h-2zM1082 489h1v1h-1zM1171 489h2v1h-2zM10 490h3v1h-3zM113 490h2v1h-2zM222 490h1v1h-1zM397 490h2v1h-2zM1083 490h1v1h-1zM1169 490h2v1h-2zM13 491h2v1h-2zM111 491h2v1h-2zM223 491h1v1h-1zM395 491h2v1h-2zM1084 491h2v1h-2zM1166 491h3v1h-3zM15 492h3v1h-3zM109 492h2v1h-2zM224 492h1v1h-1zM393 492h2v1h-2zM1086 492h1v1h-1zM1163 492h3v1h-3zM18 493h3v1h-3zM107 493h2v1h-2zM225 493h1v1h-1zM391 493h2v1h-2zM1087 493h2v1h-2zM1162 493h1v1h-1zM21 494h2v1h-2zM106 494h1v1h-1zM226 494h1v1h-1zM389 494h2v1h-2zM1089 494h2v1h-2zM1160 494h2v1h-2zM23 495h3v1h-3zM104 495h2v1h-2zM227 495h1v1h-1zM387 495h2v1h-2zM1091 495h3v1h-3zM1158 495h2v1h-2zM26 496h4v1h-4zM103 496h1v1h-1zM228 496h1v1h-1zM385 496h2v1h-2zM1094 496h4v1h-4zM1155 496h3v1h-3zM30 497h8v1h-8zM102 497h1v1h-1zM229 497h1v1h-1zM383 497h2v1h-2zM1098 497h3v1h-3zM1153 497h2v1h-2zM38 498h4v1h-4zM100 498h2v1h-2zM230 498h1v1h-1zM381 498h2v1h-2zM1101 498h2v1h-2zM1151 498h2v1h-2zM42 499h4v1h-4zM98 499h2v1h-2zM231 499h1v1h-1zM378 499h3v1h-3zM1103 499h2v1h-2zM1149 499h2v1h-2zM46 500h4v1h-4zM94 500h4v1h-4zM232 500h2v1h-2zM375 500h3v1h-3zM1105 500h2v1h-2zM1147 500h2v1h-2zM50 501h4v1h-4zM91 501h3v1h-3zM234 501h1v1h-1zM373 501h2v1h-2zM1107 501h2v1h-2zM1145 501h2v1h-2zM54 502h4v1h-4zM89 502h2v1h-2zM235 502h1v1h-1zM371 502h2v1h-2zM1109 502h2v1h-2zM1142 502h3v1h-3zM58 503h4v1h-4zM86 503h3v1h-3zM236 503h2v1h-2zM370 503h1v1h-1zM1111 503h3v1h-3zM1139 503h3v1h-3zM62 504h24v1h-24zM238 504h1v1h-1zM369 504h1v1h-1zM1114 504h4v1h-4zM1137 504h2v1h-2zM239 505h1v1h-1zM368 505h1v1h-1zM1118 505h8v1h-8zM1134 505h3v1h-3zM240 506h2v1h-2zM367 506h1v1h-1zM1126 506h8v1h-8zM242 507h1v1h-1zM366 507h1v1h-1zM243 508h1v1h-1zM365 508h1v1h-1zM244 509h2v1h-2zM364 509h1v1h-1zM246 510h1v1h-1zM363 510h1v1h-1zM247 511h2v1h-2zM361 511h2v1h-2zM249 512h2v1h-2zM359 512h2v1h-2zM251 513h2v1h-2zM358 513h1v1h-1zM253 514h2v1h-2zM357 514h1v1h-1zM255 515h2v1h-2zM356 515h1v1h-1zM257 516h2v1h-2zM355 516h1v1h-1zM259 517h3v1h-3zM353 517h2v1h-2zM262 518h3v1h-3zM351 518h2v1h-2zM265 519h2v1h-2zM350 519h1v1h-1zM267 520h2v1h-2zM349 520h1v1h-1zM269 521h2v1h-2zM348 521h1v1h-1zM271 522h3v1h-3zM347 522h1v1h-1zM274 523h3v1h-3zM345 523h2v1h-2zM277 524h2v1h-2zM343 524h2v1h-2zM279 525h3v1h-3zM342 525h1v1h-1zM282 526h3v1h-3zM340 526h2v1h-2zM285 527h2v1h-2zM339 527h1v1h-1zM287 528h3v1h-3zM337 528h2v1h-2zM290 529h4v1h-4zM334 529h3v1h-3zM294 530h3v1h-3zM330 530h4v1h-4zM297 531h2v1h-2zM326 531h4v1h-4zM299 532h27v1h-27z" fill="#0000cd" shape-rendering="crispEdges"/>
<g shape-rendering="crispEdges">
<rect x="3" y="381" width="1592" height="2" fill="#ff0000"/>
<rect x="3" y="423" width="1592" height="2" fill="#ff0000"/>
<rect x="3" y="459" width="1592" height="2" fill="#00ff00"/>
<rect x="3" y="507" width="1592" height="2" fill="#0000ff"/>
<rect x="3" y="545" width="1592" height="2" fill="#0000ff"/>
<line x1="3" y1="612.5" x2="1595" y2="612.5" stroke="#c0c0c0" stroke-width="1" stroke-dasharray="3,3"/>
<line x1="3" y1="652.5" x2="1595" y2="652.5" stroke="#c0c0c0" stroke-width="1" stroke-dasharray="3,3"/>
<rect x="3" y="750" width="1" height="9" fill="#c0c0c0"/>
<rect x="7" y="750" width="1" height="9" fill="#c0c0c0"/>
<rect x="11" y="750" width="1" height="8" fill="#c0c0c0"/>
<rect x="15" y="750" width="1" height="8" fill="#c0c0c0"/>
<rect x="19" y="750" width="1" height="7" fill="#c0c0c0"/>
<rect x="23" y="750" width="1" height="7" fill="#c0c0c0"/>
<rect x="27" y="750" width="1" height="6" fill="#c0c0c0"/>
<rect x="31" y="750" width="1" height="5" fill="#c0c0c0"/>
<rect x="35" y="750" width="1" height="4" fill="#c0c0c0"/>
<rect x="39" y="750" width="1" height="4" fill="#c0c0c0"/>
<rect x="43" y="750" width="1" height="3" fill="#c0c0c0"/>
<rect x="47" y="750" width="1" height="2" fill="#c0c0c0"/>
<rect x="51" y="750" width="1" height="2" fill="#c0c0c0"/>
<rect x="55" y="750" width="1" height="1" fill="#c0c0c0"/>
<rect x="67" y="749" width="1" height="1" fill="#c0c0c0"/>
<rect x="71" y="749" width="1" height="1" fill="#c0c0c0"/>
<rect x="75" y="748" width="1" height="2" fill="#c0c0c0"/>
<rect x="79" y="748" width="1" height="2" fill="#c0c0c0"/>
<rect x="83" y="748" width="1" height="2" fill="#c0c0c0"/>
<rect x="87" y="747" width="1" height="3" fill="#c0c0c0"/>
<rect x="91" y="747" width="1" height="3" fill="#c0c0c0"/>
<rect x="95" y="746" width="1" height="4" fill="#c0c0c0"/>
<rect x="99" y="746" width="1" height="4" fill="#c0c0c0"/>
<rect x="103" y="746" width="1" height="4" fill="#c0c0c0"/>
<rect x="107" y="746" width="1" height="4" fill="#c0c0c0"/>
<rect x="111" y="746" width="1" height="4" fill="#c0c0c0"/>
<rect x="115" y="745" width="1" height="5" fill="#c0c0c0"/>
<rect x="119" y="745" width="1" height="5" fill="#c0c0c0"/>
<rect x="123" y="745" width="1" height="5" fill="#c0c0c0"/>
<rect x="127" y="745" width="1" height="5" fill="#c0c0c0"/>
<rect x="131" y="745" width="1" height="5" fill="#c0c0c0"/>
<rect x="135" y="746" width="1" height="4" fill="#c0c0c0"/>
<rect x="139" y="747" width="1" height="3" fill="#c0c0c0"/>
<rect x="143" y="748" width="1" height="2" fill="#c0c0c0"/>
<rect x="147" y="748" width="1" height="2" fill="#c0c0c0"/>
<rect x="151" y="749" width="1" height="1" fill="#c0c0c0"/>
<rect x="167" y="750" width="1" height="1" fill="#c0c0c0"/>
<rect x="171" y="750" width="1" height="1" fill="#c0c0c0"/>
<rect x="175" y="750" width="1" height="2" fill="#c0c0c0"/>
<rect x="179" y="750" width="1" height="2" fill="#c0c0c0"/>
<rect x="183" y="750" width="1" height="3" fill="#c0c0c0"/>
<rect x="187" y="750" width="1" height="4" fill="#c0c0c0"/>
<rect x="191" y="750" width="1" height="4" fill="#c0c0c0"/>
<rect x="195" y="750" width="1" height="4" fill="#c0c0c0"/>
<rect x="199" y="750" width="1" height="5" fill="#c0c0c0"/>
<rect x="203" y="750" width="1" height="5" fill="#c0c0c0"/>
<rect x="207" y="750" width="1" height="5" fill="#c0c0c0"/>
<rect x="211" y="750" width="1" height="5" fill="#c0c0c0"/>
<rect x="215" y="750" width="1" height="6" fill="#c0c0c0"/>
<rect x="219" y="750" width="1" height="6" fill="#c0c0c0"/>
<rect x="223" y="750" width="1" height="8" fill="#c0c0c0"/>
<rect x="227" y="750" width="1" height="9" fill="#c0c0c0"/>
<rect x="231" y="750" width="1" height="10" fill="#c0c0c0"/>
<rect x="235" y="750" width="1" height="10" fill="#c0c0c0"/>
<rect x="239" y="750" width="1" height="11" fill="#c0c0c0"/>
<rect x="243" y="750" width="1" height="11" fill="#c0c0c0"/>
<rect x="247" y="750" width="1" height="12" fill="#c0c0c0"/>
<rect x="251" y="750" width="1" height="12" fill="#c0c0c0"/>
<rect x="255" y="750" width="1" height="11" fill="#c0c0c0"/>
<rect x="259" y="750" width="1" height="10" fill="#c0c0c0"/>
<rect x="263" y="750" width="1" height="9" fill="#c0c0c0"/>
<rect x="267" y="750" width="1" height="8" fill="#c0c0c0"/>
<rect x="271" y="750" width="1" height="7" fill="#c0c0c0"/>
<rect x="275" y="750" width="1" height="6" fill="#c0c0c0"/>
<rect x="279" y="750" width="1" height="6" fill="#c0c0c0"/>
<rect x="283" y="750" width="1" height="5" fill="#c0c0c0"/>
<rect x="287" y="750" width="1" height="5" fill="#c0c0c0"/>
<rect x="291" y="750" width="1" height="4" fill="#c0c0c0"/>
<rect x="295" y="750" width="1" height="4" fill="#c0c0c0"/>
<rect x="299" y="750" width="1" height="3" fill="#c0c0c0"/>
<rect x="303" y="750" width="1" height="2" fill="#c0c0c0"/>
<rect x="307" y="750" width="1" height="2" fill="#c0c0c0"/>
<rect x="311" y="750" width="1" height="1" fill="#c0c0c0"/>
<rect x="319" y="749" width="1" height="1" fill="#c0c0c0"/>
<rect x="323" y="748" width="1" height="2" fill="#c0c0c0"/>
<rect x="327" y="748" width="1" height="2" fill="#c0c0c0"/>
<rect x="331" y="746" width="1" height="4" fill="#c0c0c0"/>
<rect x="335" y="745" width="1" height="5" fill="#c0c0c0"/>
<rect x="339" y="744" width="1" height="6" fill="#c0c0c0"/>
<rect x="343" y="743" width="1" height="7" fill="#c0c0c0"/>
<rect x="347" y="742" width="1" height="8" fill="#c0c0c0"/>
<rect x="351" y="742" width="1" height="8" fill="#c0c0c0"/>
<rect x="355" y="741" width="1" height="9" fill="#c0c0c0"/>
<rect x="359" y="741" width="1" height="9" fill="#c0c0c0"/>
<rect x="363" y="741" width="1" height="9" fill="#c0c0c0"/>
<rect x="367" y="740" width="1" height="10" fill="#c0c0c0"/>
<rect x="371" y="741" width="1" height="9" fill="#c0c0c0"/>
<rect x="375" y="741" width="1" height="9" fill="#c0c0c0"/>
<rect x="379" y="742" width="1" height="8" fill="#c0c0c0"/>
<rect x="383" y="743" width="1" height="7" fill="#c0c0c0"/>
<rect x="387" y="744" width="1" height="6" fill="#c0c0c0"/>
<rect x="391" y="745" width="1" height="5" fill="#c0c0c0"/>
<rect x="395" y="745" width="1" height="5" fill="#c0c0c0"/>
<rect x="399" y="746" width="1" height="4" fill="#c0c0c0"/>
<rect x="403" y="747" width="1" height="3" fill="#c0c0c0"/>
<rect x="407" y="747" width="1" height="3" fill="#c0c0c0"/>
<rect x="411" y="748" width="1" height="2" fill="#c0c0c0"/>
<rect x="415" y="748" width="1" height="2" fill="#c0c0c0"/>
<rect x="419" y="748" width="1" height="2" fill="#c0c0c0"/>
<rect x="423" y="746" width="1" height="4" fill="#c0c0c0"/>
<rect x="427" y="746" width="1" height="4" fill="#c0c0c0"/>
<rect x="431" y="744" width="1" height="6" fill="#c0c0c0"/>
<rect x="435" y="743" width="1" height="7" fill="#c0c0c0"/>
<rect x="439" y="742" width="1" height="8" fill="#c0c0c0"/>
<rect x="443" y="743" width="1" height="7" fill="#c0c0c0"/>
<rect x="447" y="742" width="1" height="8" fill="#c0c0c0"/>
<rect x="451" y="742" width="1" height="8" fill="#c0c0c0"/>
<rect x="455" y="742" width="1" height="8" fill="#c0c0c0"/>
<rect x="459" y="742" width="1" height="8" fill="#c0c0c0"/>
<rect x="463" y="740" width="1" height="10" fill="#c0c0c0"/>
<rect x="467" y="735" width="1" height="15" fill="#c0c0c0"/>
<rect x="471" y="731" width="1" height="19" fill="#c0c0c0"/>
<rect x="475" y="727" width="1" height="23" fill="#c0c0c0"/>
<rect x="479" y="722" width="1" height="28" fill="#c0c0c0"/>
<rect x="483" y="719" width="1" height="31" fill="#c0c0c0"/>
<rect x="487" y="717" width="1" height="33" fill="#c0c0c0"/>
<rect x="491" y="712" width="1" height="38" fill="#c0c0c0"/>
<rect x="495" y="704" width="1" height="46" fill="#c0c0c0"/>
<rect x="499" y="699" width="1" height="51" fill="#c0c0c0"/>
<rect x="503" y="697" width="1" height="53" fill="#c0c0c0"/>
<rect x="507" y="695" width="1" height="55" fill="#c0c0c0"/>
<rect x="511" y="692" width="1" height="58" fill="#c0c0c0"/>
<rect x="515" y="692" width="1" height="58" fill="#c0c0c0"/>
<rect x="519" y="695" width="1" height="55" fill="#c0c0c0"/>
<rect x="523" y="702" width="1" height="48" fill="#c0c0c0"/>
<rect x="527" y="708" width="1" height="42" fill="#c0c0c0"/>
<rect x="531" y="715" width="1" height="35" fill="#c0c0c0"/>
<rect x="535" y="717" width="1" height="33" fill="#c0c0c0"/>
<rect x="539" y="720" width="1" height="30" fill="#c0c0c0"/>
<rect x="543" y="721" width="1" height="29" fill="#c0c0c0"/>
<rect x="547" y="724" width="1" height="26" fill="#c0c0c0"/>
<rect x="551" y="726" width="1" height="24" fill="#c0c0c0"/>
<rect x="555" y="728" width="1" height="22" fill="#c0c0c0"/>
<rect x="559" y="730" width="1" height="20" fill="#c0c0c0"/>
<rect x="563" y="734" width="1" height="16" fill="#c0c0c0"/>
<rect x="567" y="737" width="1" height="13" fill="#c0c0c0"/>
<rect x="571" y="740" width="1" height="10" fill="#c0c0c0"/>
<rect x="575" y="743" width="1" height="7" fill="#c0c0c0"/>
<rect x="579" y="745" width="1" height="5" fill="#c0c0c0"/>
<rect x="583" y="747" width="1" height="3" fill="#c0c0c0"/>
<rect x="591" y="748" width="1" height="2" fill="#c0c0c0"/>
<rect x="595" y="747" width="1" height="3" fill="#c0c0c0"/>
<rect x="599" y="747" width="1" height="3" fill="#c0c0c0"/>
<rect x="603" y="748" width="1" height="2" fill="#c0c0c0"/>
<rect x="607" y="748" width="1" height="2" fill="#c0c0c0"/>
<rect x="611" y="746" width="1" height="4" fill="#c0c0c0"/>
<rect x="615" y="745" width="1" height="5" fill="#c0c0c0"/>
<rect x="619" y="746" width="1" height="4" fill="#c0c0c0"/>
<rect x="623" y="746" width="1" height="4" fill="#c0c0c0"/>
<rect x="627" y="746" width="1" height="4" fill="#c0c0c0"/>
<rect x="631" y="747" width="1" height="3" fill="#c0c0c0"/>
<rect x="635" y="749" width="1" height="1" fill="#c0c0c0"/>
<rect x="643" y="750" width="1" height="1" fill="#c0c0c0"/>
<rect x="671" y="750" width="1" height="1" fill="#c0c0c0"/>
<rect x="675" y="750" width="1" height="2" fill="#c0c0c0"/>
<rect x="679" y="750" width="1" height="2" fill="#c0c0c0"/>
<rect x="683" y="750" width="1" height="2" fill="#c0c0c0"/>
<rect x="687" y="750" width="1" height="1" fill="#c0c0c0"/>
<rect x="699" y="749" width="1" height="1" fill="#c0c0c0"/>
<rect x="707" y="750" width="1" height="1" fill="#c0c0c0"/>
<rect x="711" y="750" width="1" height="3" fill="#c0c0c0"/>
<rect x="715" y="750" width="1" height="3" fill="#c0c0c0"/>
<rect x="719" y="750" width="1" height="3" fill="#c0c0c0"/>
<rect x="723" y="750" width="1" height="3" fill="#c0c0c0"/>
<rect x="727" y="750" width="1" height="3" fill="#c0c0c0"/>
<rect x="731" y="750" width="1" height="5" fill="#c0c0c0"/>
<rect x="735" y="750" width="1" height="7" fill="#c0c0c0"/>
<rect x="739" y="750" width="1" height="10" fill="#c0c0c0"/>
<rect x="743" y="750" width="1" height="10" fill="#c0c0c0"/>
<rect x="747" y="750" width="1" height="12" fill="#c0c0c0"/>
<rect x="751" y="750" width="1" height="15" fill="#c0c0c0"/>
<rect x="755" y="750" width="1" height="18" fill="#c0c0c0"/>
<rect x="759" y="750" width="1" height="22" fill="#c0c0c0"/>
<rect x="763" y="750" width="1" height="23" fill="#c0c0c0"/>
<rect x="767" y="750" width="1" height="26" fill="#c0c0c0"/>
<rect x="771" y="750" width="1" height="28" fill="#c0c0c0"/>
<rect x="775" y="750" width="1" height="29" fill="#c0c0c0"/>
<rect x="779" y="750" width="1" height="30" fill="#c0c0c0"/>
<rect x="783" y="750" width="1" height="30" fill="#c0c0c0"/>
<rect x="787" y="750" width="1" height="28" fill="#c0c0c0"/>
<rect x="791" y="750" width="1" height="25" fill="#c0c0c0"/>
<rect x="795" y="750" width="1" height="22" fill="#c0c0c0"/>
<rect x="799" y="750" width="1" height="19" fill="#c0c0c0"/>
<rect x="803" y="750" width="1" height="18" fill="#c0c0c0"/>
<rect x="807" y="750" width="1" height="16" fill="#c0c0c0"/>
<rect x="811" y="750" width="1" height="15" fill="#c0c0c0"/>
<rect x="815" y="750" width="1" height="13" fill="#c0c0c0"/>
<rect x="819" y="750" width="1" height="12" fill="#c0c0c0"/>
<rect x="823" y="750" width="1" height="12" fill="#c0c0c0"/>
<rect x="827" y="750" width="1" height="12" fill="#c0c0c0"/>
<rect x="831" y="750" width="1" height="10" fill="#c0c0c0"/>
<rect x="835" y="750" width="1" height="8" fill="#c0c0c0"/>
<rect x="839" y="750" width="1" height="5" fill="#c0c0c0"/>
<rect x="843" y="750" width="1" height="4" fill="#c0c0c0"/>
<rect x="847" y="750" width="1" height="3" fill="#c0c0c0"/>
<rect x="851" y="750" width="1" height="3" fill="#c0c0c0"/>
<rect x="855" y="750" width="1" height="3" fill="#c0c0c0"/>
<rect x="859" y="750" width="1" height="3" fill="#c0c0c0"/>
<rect x="863" y="750" width="1" height="4" fill="#c0c0c0"/>
<rect x="867" y="750" width="1" height="4" fill="#c0c0c0"/>
<rect x="871" y="750" width="1" height="4" fill="#c0c0c0"/>
<rect x="875" y="750" width="1" height="4" fill="#c0c0c0"/>
<rect x="879" y="750" width="1" height="4" fill="#c0c0c0"/>
<rect x="883" y="750" width="1" height="4" fill="#c0c0c0"/>
<rect x="887" y="750" width="1" height="4" fill="#c0c0c0"/>
<rect x="891" y="750" width="1" height="4" fill="#c0c0c0"/>
<rect x="895" y="750" width="1" height="4" fill="#c0c0c0"/>
<rect x="899" y="750" width="1" height="3" fill="#c0c0c0"/>
<rect x="903" y="750" width="1" height="4" fill="#c0c0c0"/>
<rect x="907" y="750" width="1" height="4" fill="#c0c0c0"/>
<rect x="911" y="750" width="1" height="4" fill="#c0c0c0"/>
<rect x="915" y="750" width="1" height="4" fill="#c0c0c0"/>
<rect x="919" y="750" width="1" height="4" fill="#c0c0c0"/>
<rect x="923" y="750" width="1" height="5" fill="#c0c0c0"/>
<rect x="927" y="750" width="1" height="6" fill="#c0c0c0"/>
<rect x="931" y="750" width="1" height="8" fill="#c0c0c0"/>
<rect x="935" y="750" width="1" height="9" fill="#c0c0c0"/>
<rect x="939" y="750" width="1" height="9" fill="#c0c0c0"/>
<rect x="943" y="750" width="1" height="10" fill="#c0c0c0"/>
<rect x="947" y="750" width="1" height="11" fill="#c0c0c0"/>
<rect x="951" y="750" width="1" height="11" fill="#c0c0c0"/>
<rect x="955" y="750" width="1" height="10" fill="#c0c0c0"/>
<rect x="959" y="750" width="1" height="10" fill="#c0c0c0"/>
<rect x="963" y="750" width="1" height="10" fill="#c0c0c0"/>
<rect x="967" y="750" width="1" height="10" fill="#c0c0c0"/>
<rect x="971" y="750" width="1" height="10" fill="#c0c0c0"/>
<rect x="975" y="750" width="1" height="12" fill="#c0c0c0"/>
<rect x="979" y="750" width="1" height="12" fill="#c0c0c0"/>
<rect x="983" y="750" width="1" height="11" fill="#c0c0c0"/>
<rect x="987" y="750" width="1" height="10" fill="#c0c0c0"/>
<rect x="991" y="750" width="1" height="10" fill="#c0c0c0"/>
<rect x="995" y="750" width="1" height="10" fill="#c0c0c0"/>
<rect x="999" y="750" width="1" height="12" fill="#c0c0c0"/>
<rect x="1003" y="750" width="1" height="13" fill="#c0c0c0"/>
<rect x="1007" y="750" width="1" height="13" fill="#c0c0c0"/>
<rect x="1011" y="750" width="1" height="13" fill="#c0c0c0"/>
<rect x="1015" y="750" width="1" height="13" fill="#c0c0c0"/>
<rect x="1019" y="750" width="1" height="14" fill="#c0c0c0"/>
<rect x="1023" y="750" width="1" height="14" fill="#c0c0c0"/>
<rect x="1027" y="750" width="1" height="14" fill="#c0c0c0"/>
<rect x="1031" y="750" width="1" height="14" fill="#c0c0c0"/>
<rect x="1035" y="750" width="1" height="14" fill="#c0c0c0"/>
<rect x="1039" y="750" width="1" height="13" fill="#c0c0c0"/>
<rect x="1043" y="750" width="1" height="13" fill="#c0c0c0"/>
<rect x="1047" y="750" width="1" height="14" fill="#c0c0c0"/>
<rect x="1051" y="750" width="1" height="14" fill="#c0c0c0"/>
<rect x="1055" y="750" width="1" height="15" fill="#c0c0c0"/>
<rect x="1059" y="750" width="1" height="15" fill="#c0c0c0"/>
<rect x="1063" y="750" width="1" height="16" fill="#c0c0c0"/>
<rect x="1067" y="750" width="1" height="16" fill="#c0c0c0"/>
<rect x="1071" y="750" width="1" height="16" fill="#c0c0c0"/>
<rect x="1075" y="750" width="1" height="14" fill="#c0c0c0"/>
<rect x="1079" y="750" width="1" height="14" fill="#c0c0c0"/>
<rect x="1083" y="750" width="1" height="14" fill="#c0c0c0"/>
<rect x="1087" y="750" width="1" height="13" fill="#c0c0c0"/>
<rect x="1091" y="750" width="1" height="10" fill="#c0c0c0"/>
<rect x="1095" y="750" width="1" height="9" fill="#c0c0c0"/>
<rect x="1099" y="750" width="1" height="8" fill="#c0c0c0"/>
<rect x="1103" y="750" width="1" height="6" fill="#c0c0c0"/>
<rect x="1107" y="750" width="1" height="5" fill="#c0c0c0"/>
<rect x="1111" y="750" width="1" height="4" fill="#c0c0c0"/>
<rect x="1115" y="750" width="1" height="4" fill="#c0c0c0"/>
<rect x="1119" y="750" width="1" height="3" fill="#c0c0c0"/>
<rect x="1123" y="750" width="1" height="2" fill="#c0c0c0"/>
<rect x="1127" y="750" width="1" height="2" fill="#c0c0c0"/>
<rect x="1131" y="750" width="1" height="2" fill="#c0c0c0"/>
<rect x="1139" y="748" width="1" height="2" fill="#c0c0c0"/>
<rect x="1143" y="746" width="1" height="4" fill="#c0c0c0"/>
<rect x="1147" y="745" width="1" height="5" fill="#c0c0c0"/>
<rect x="1151" y="743" width="1" height="7" fill="#c0c0c0"/>
<rect x="1155" y="742" width="1" height="8" fill="#c0c0c0"/>
<rect x="1159" y="741" width="1" height="9" fill="#c0c0c0"/>
<rect x="1163" y="740" width="1" height="10" fill="#c0c0c0"/>
<rect x="1167" y="741" width="1" height="9" fill="#c0c0c0"/>
<rect x="1171" y="742" width="1" height="8" fill="#c0c0c0"/>
<rect x="1175" y="743" width="1" height="7" fill="#c0c0c0"/>
<rect x="1179" y="744" width="1" height="6" fill="#c0c0c0"/>
<rect x="1183" y="745" width="1" height="5" fill="#c0c0c0"/>
<rect x="1187" y="746" width="1" height="4" fill="#c0c0c0"/>
<rect x="1191" y="747" width="1" height="3" fill="#c0c0c0"/>
<rect x="1195" y="748" width="1" height="2" fill="#c0c0c0"/>
<rect x="1203" y="750" width="1" height="2" fill="#c0c0c0"/>
<rect x="1207" y="750" width="1" height="4" fill="#c0c0c0"/>
<rect x="1211" y="750" width="1" height="5" fill="#c0c0c0"/>
<rect x="1215" y="750" width="1" height="6" fill="#c0c0c0"/>
<rect x="1219" y="750" width="1" height="5" fill="#c0c0c0"/>
<rect x="1223" y="750" width="1" height="4" fill="#c0c0c0"/>
<rect x="1227" y="750" width="1" height="4" fill="#c0c0c0"/>
<rect x="1231" y="750" width="1" height="5" fill="#c0c0c0"/>
<rect x="1235" y="750" width="1" height="6" fill="#c0c0c0"/>
<rect x="1239" y="750" width="1" height="6" fill="#c0c0c0"/>
<rect x="1243" y="750" width="1" height="6" fill="#c0c0c0"/>
<rect x="1247" y="750" width="1" height="6" fill="#c0c0c0"/>
<rect x="1251" y="750" width="1" height="6" fill="#c0c0c0"/>
<rect x="1255" y="750" width="1" height="5" fill="#c0c0c0"/>
<rect x="1259" y="750" width="1" height="4" fill="#c0c0c0"/>
<rect x="1263" y="750" width="1" height="1" fill="#c0c0c0"/>
</g>
<path d="M11 649h1v3h-1zM12 644h1v5h-1zM13 639h1v5h-1zM14 634h1v5h-1zM15 631h1v3h-1zM44 628h1v2h-1zM45 626h1v2h-1zM46 624h1v2h-1zM67 618h1v2h-1zM68 620h1v2h-1zM69 622h1v2h-1zM70 624h1v2h-1zM83 625h1v2h-1zM84 623h1v2h-1zM85 620h1v3h-1zM86 618h1v2h-1zM87 616h1v2h-1zM105 618h1v2h-1zM125 621h1v2h-1zM131 622h1v2h-1zM132 624h1v4h-1zM133 628h1v3h-1zM134 631h1v4h-1zM135 635h1v3h-1zM136 638h1v2h-1zM137 640h1v2h-1zM138 642h1v2h-1zM139 643h1v2h-1zM140 640h1v3h-1zM141 636h1v4h-1zM142 633h1v3h-1zM143 631h1v2h-1zM181 648h1v2h-1zM188 645h1v2h-1zM189 643h1v2h-1zM190 641h1v2h-1zM209 642h1v2h-1zM223 653h1v2h-1zM224 655h1v2h-1zM225 657h1v2h-1zM226 659h1v2h-1zM247 656h1v2h-1zM248 654h1v2h-1zM249 651h1v3h-1zM250 649h1v2h-1zM251 647h1v2h-1zM253 644h1v2h-1zM255 641h1v2h-1zM256 638h1v3h-1zM257 636h1v2h-1zM258 633h1v3h-1zM259 631h1v2h-1zM260 632h1v2h-1zM261 634h1v2h-1zM262 636h1v2h-1zM299 634h1v2h-1zM300 632h1v2h-1zM301 630h1v2h-1zM302 628h1v2h-1zM303 626h1v2h-1zM304 624h1v2h-1zM306 621h1v2h-1zM367 603h1v2h-1zM368 605h1v2h-1zM369 607h1v3h-1zM370 610h1v2h-1zM371 612h1v3h-1zM372 615h1v2h-1zM373 617h1v2h-1zM374 619h1v2h-1zM397 626h1v2h-1zM411 636h1v2h-1zM412 632h1v4h-1zM413 629h1v3h-1zM414 625h1v4h-1zM415 623h1v2h-1zM424 616h1v2h-1zM425 614h1v2h-1zM426 612h1v2h-1zM428 609h1v2h-1zM430 606h1v2h-1zM439 613h1v2h-1zM440 615h1v2h-1zM441 617h1v3h-1zM442 620h1v2h-1zM443 622h1v2h-1zM445 620h1v2h-1zM459 613h1v2h-1zM460 611h1v2h-1zM461 609h1v2h-1zM462 607h1v2h-1zM463 605h1v2h-1zM464 603h1v2h-1zM465 601h1v2h-1zM466 599h1v2h-1zM467 597h1v2h-1zM480 596h1v2h-1zM481 598h1v2h-1zM482 600h1v2h-1zM497 595h1v2h-1zM500 599h1v2h-1zM501 601h1v2h-1zM502 603h1v2h-1zM515 606h1v2h-1zM516 608h1v2h-1zM517 610h1v2h-1zM518 612h1v2h-1zM519 614h1v2h-1zM520 616h1v4h-1zM521 620h1v3h-1zM522 623h1v4h-1zM523 627h1v2h-1zM528 628h1v2h-1zM530 631h1v2h-1zM531 632h1v2h-1zM532 630h1v2h-1zM533 628h1v2h-1zM534 626h1v2h-1zM560 630h1v2h-1zM562 633h1v2h-1zM587 637h1v2h-1zM588 635h1v2h-1zM589 632h1v3h-1zM590 630h1v2h-1zM591 628h1v2h-1zM596 627h1v2h-1zM598 630h1v2h-1zM608 628h1v2h-1zM610 625h1v2h-1zM617 630h1v2h-1zM643 639h1v2h-1zM644 636h1v3h-1zM645 634h1v2h-1zM646 631h1v3h-1zM647 629h1v2h-1zM660 631h1v2h-1zM662 628h1v2h-1zM663 627h1v2h-1zM664 629h1v2h-1zM665 631h1v3h-1zM666 634h1v2h-1zM667 636h1v2h-1zM677 634h1v2h-1zM699 629h1v2h-1zM700 631h1v2h-1zM701 633h1v2h-1zM702 635h1v2h-1zM717 634h1v2h-1zM727 635h1v2h-1zM728 637h1v2h-1zM729 639h1v2h-1zM730 641h1v2h-1zM747 644h1v2h-1zM748 646h1v2h-1zM749 648h1v2h-1zM750 650h1v2h-1zM783 653h1v2h-1zM784 650h1v3h-1zM785 646h1v4h-1zM786 643h1v3h-1zM787 641h1v2h-1zM821 638h1v2h-1zM827 642h1v2h-1zM828 640h1v2h-1zM829 638h1v2h-1zM830 636h1v2h-1zM833 632h1v2h-1zM848 630h1v2h-1zM850 633h1v2h-1zM873 637h1v2h-1zM899 632h1v2h-1zM900 634h1v2h-1zM901 636h1v2h-1zM902 638h1v2h-1zM917 636h1v2h-1zM920 640h1v2h-1zM921 642h1v2h-1zM922 644h1v2h-1zM931 651h1v2h-1zM932 649h1v2h-1zM933 647h1v2h-1zM934 645h1v2h-1zM951 646h1v2h-1zM952 644h1v2h-1zM953 642h1v2h-1zM954 640h1v2h-1zM972 646h1v2h-1zM973 648h1v2h-1zM974 650h1v2h-1zM979 648h1v2h-1zM980 645h1v3h-1zM981 641h1v4h-1zM982 638h1v3h-1zM983 636h1v2h-1zM993 642h1v2h-1zM1071 651h1v2h-1zM1072 648h1v3h-1zM1073 646h1v2h-1zM1074 643h1v3h-1zM1075 641h1v2h-1zM1084 647h1v2h-1zM1086 644h1v2h-1zM1087 642h1v2h-1zM1088 639h1v3h-1zM1089 636h1v3h-1zM1090 633h1v3h-1zM1091 631h1v2h-1zM1131 630h1v2h-1zM1132 628h1v2h-1zM1133 625h1v3h-1zM1134 623h1v2h-1zM1135 621h1v2h-1zM1141 617h1v2h-1zM1163 616h1v2h-1zM1164 618h1v3h-1zM1165 621h1v2h-1zM1166 623h1v3h-1zM1167 626h1v2h-1zM1192 633h1v2h-1zM1194 636h1v2h-1zM1195 638h1v2h-1zM1196 640h1v2h-1zM1197 642h1v2h-1zM1198 644h1v2h-1zM1199 646h1v2h-1zM1215 641h1v2h-1zM1216 638h1v3h-1zM1217 636h1v2h-1zM1218 633h1v3h-1zM1219 631h1v2h-1zM1221 633h1v2h-1zM1251 638h1v2h-1zM1252 636h1v2h-1zM1253 634h1v2h-1zM1254 632h1v2h-1zM1256 632h1v2h-1zM1258 635h1v2h-1zM1259 636h1v2h-1zM1260 632h1v4h-1zM1261 628h1v4h-1zM1262 624h1v4h-1zM1263 622h1v2h-1zM495 593h1v1h-1zM494 594h1v1h-1zM496 594h1v1h-1zM479 595h1v1h-1zM493 595h1v1h-1zM477 596h2v1h-2zM492 596h1v1h-1zM475 597h2v1h-2zM491 597h1v1h-1zM498 597h1v1h-1zM468 598h1v1h-1zM474 598h1v1h-1zM490 598h1v1h-1zM499 598h1v1h-1zM469 599h1v1h-1zM473 599h1v1h-1zM489 599h1v1h-1zM470 600h1v1h-1zM472 600h1v1h-1zM488 600h1v1h-1zM471 601h1v1h-1zM486 601h2v1h-2zM483 602h3v1h-3zM511 602h1v1h-1zM358 603h3v1h-3zM509 603h2v1h-2zM512 603h1v1h-1zM350 604h8v1h-8zM361 604h2v1h-2zM365 604h2v1h-2zM506 604h3v1h-3zM513 604h1v1h-1zM347 605h3v1h-3zM363 605h2v1h-2zM431 605h1v1h-1zM503 605h3v1h-3zM514 605h1v1h-1zM345 606h2v1h-2zM432 606h1v1h-1zM343 607h2v1h-2zM433 607h1v1h-1zM342 608h1v1h-1zM429 608h1v1h-1zM434 608h1v1h-1zM340 609h2v1h-2zM435 609h1v1h-1zM339 610h1v1h-1zM436 610h1v1h-1zM337 611h2v1h-2zM427 611h1v1h-1zM437 611h1v1h-1zM331 612h6v1h-6zM438 612h1v1h-1zM329 613h2v1h-2zM1151 613h2v1h-2zM327 614h2v1h-2zM458 614h1v1h-1zM1150 614h1v1h-1zM1153 614h2v1h-2zM326 615h1v1h-1zM455 615h3v1h-3zM1143 615h3v1h-3zM1148 615h2v1h-2zM1155 615h1v1h-1zM103 616h1v1h-1zM324 616h2v1h-2zM453 616h2v1h-2zM1142 616h1v1h-1zM1146 616h2v1h-2zM1156 616h2v1h-2zM88 617h1v1h-1zM101 617h2v1h-2zM104 617h1v1h-1zM322 617h2v1h-2zM450 617h3v1h-3zM1158 617h1v1h-1zM1161 617h2v1h-2zM89 618h1v1h-1zM98 618h3v1h-3zM319 618h3v1h-3zM423 618h1v1h-1zM447 618h3v1h-3zM1159 618h2v1h-2zM65 619h2v1h-2zM90 619h1v1h-1zM94 619h4v1h-4zM127 619h1v1h-1zM318 619h1v1h-1zM421 619h2v1h-2zM446 619h1v1h-1zM1140 619h1v1h-1zM63 620h2v1h-2zM91 620h3v1h-3zM106 620h1v1h-1zM126 620h1v1h-1zM128 620h2v1h-2zM307 620h2v1h-2zM317 620h1v1h-1zM419 620h2v1h-2zM1138 620h2v1h-2zM51 621h1v1h-1zM61 621h2v1h-2zM107 621h3v1h-3zM130 621h1v1h-1zM309 621h2v1h-2zM316 621h1v1h-1zM375 621h2v1h-2zM418 621h1v1h-1zM1136 621h2v1h-2zM49 622h2v1h-2zM52 622h2v1h-2zM59 622h2v1h-2zM110 622h7v1h-7zM311 622h5v1h-5zM377 622h2v1h-2zM382 622h3v1h-3zM416 622h2v1h-2zM444 622h1v1h-1zM1264 622h1v1h-1zM47 623h2v1h-2zM54 623h1v1h-1zM57 623h2v1h-2zM117 623h2v1h-2zM124 623h1v1h-1zM305 623h1v1h-1zM379 623h3v1h-3zM385 623h2v1h-2zM1265 623h2v1h-2zM55 624h2v1h-2zM119 624h5v1h-5zM387 624h1v1h-1zM395 624h1v1h-1zM611 624h1v1h-1zM1267 624h1v1h-1zM74 625h2v1h-2zM388 625h2v1h-2zM394 625h1v1h-1zM396 625h1v1h-1zM535 625h2v1h-2zM543 625h1v1h-1zM612 625h1v1h-1zM71 626h3v1h-3zM76 626h2v1h-2zM390 626h1v1h-1zM392 626h2v1h-2zM537 626h2v1h-2zM541 626h2v1h-2zM544 626h2v1h-2zM595 626h1v1h-1zM613 626h1v1h-1zM78 627h1v1h-1zM81 627h2v1h-2zM391 627h1v1h-1zM526 627h2v1h-2zM539 627h2v1h-2zM546 627h1v1h-1zM555 627h2v1h-2zM593 627h2v1h-2zM609 627h1v1h-1zM614 627h1v1h-1zM79 628h2v1h-2zM398 628h1v1h-1zM524 628h2v1h-2zM547 628h3v1h-3zM553 628h2v1h-2zM557 628h2v1h-2zM592 628h1v1h-1zM615 628h1v1h-1zM839 628h1v1h-1zM1168 628h1v1h-1zM399 629h2v1h-2zM550 629h3v1h-3zM559 629h1v1h-1zM597 629h1v1h-1zM616 629h1v1h-1zM648 629h2v1h-2zM698 629h1v1h-1zM837 629h2v1h-2zM840 629h2v1h-2zM847 629h1v1h-1zM1169 629h1v1h-1zM1175 629h2v1h-2zM39 630h5v1h-5zM401 630h2v1h-2zM529 630h1v1h-1zM607 630h1v1h-1zM626 630h2v1h-2zM650 630h4v1h-4zM661 630h1v1h-1zM687 630h11v1h-11zM835 630h2v1h-2zM842 630h1v1h-1zM845 630h2v1h-2zM1170 630h1v1h-1zM1173 630h2v1h-2zM1177 630h2v1h-2zM38 631h1v1h-1zM144 631h2v1h-2zM403 631h2v1h-2zM605 631h2v1h-2zM623 631h3v1h-3zM628 631h2v1h-2zM654 631h3v1h-3zM686 631h1v1h-1zM834 631h1v1h-1zM843 631h2v1h-2zM1106 631h3v1h-3zM1115 631h1v1h-1zM1123 631h2v1h-2zM1171 631h2v1h-2zM1179 631h2v1h-2zM1255 631h1v1h-1zM16 632h1v1h-1zM36 632h2v1h-2zM146 632h2v1h-2zM405 632h2v1h-2zM561 632h1v1h-1zM599 632h6v1h-6zM618 632h1v1h-1zM621 632h2v1h-2zM630 632h1v1h-1zM657 632h2v1h-2zM679 632h3v1h-3zM684 632h2v1h-2zM719 632h2v1h-2zM849 632h1v1h-1zM1092 632h2v1h-2zM1103 632h3v1h-3zM1109 632h2v1h-2zM1113 632h2v1h-2zM1116 632h2v1h-2zM1122 632h1v1h-1zM1125 632h2v1h-2zM1129 632h2v1h-2zM1181 632h2v1h-2zM1190 632h2v1h-2zM1220 632h1v1h-1zM17 633h1v1h-1zM35 633h1v1h-1zM148 633h2v1h-2zM407 633h1v1h-1zM567 633h3v1h-3zM619 633h2v1h-2zM631 633h2v1h-2zM659 633h1v1h-1zM678 633h1v1h-1zM682 633h2v1h-2zM718 633h1v1h-1zM721 633h2v1h-2zM898 633h1v1h-1zM1094 633h1v1h-1zM1101 633h2v1h-2zM1111 633h2v1h-2zM1118 633h1v1h-1zM1120 633h2v1h-2zM1127 633h2v1h-2zM1183 633h7v1h-7zM18 634h1v1h-1zM34 634h1v1h-1zM150 634h1v1h-1zM408 634h1v1h-1zM565 634h2v1h-2zM570 634h4v1h-4zM633 634h2v1h-2zM723 634h3v1h-3zM832 634h1v1h-1zM887 634h6v1h-6zM897 634h1v1h-1zM915 634h1v1h-1zM1095 634h6v1h-6zM1119 634h1v1h-1zM1257 634h1v1h-1zM19 635h11v1h-11zM32 635h2v1h-2zM151 635h6v1h-6zM291 635h3v1h-3zM298 635h1v1h-1zM409 635h1v1h-1zM563 635h2v1h-2zM574 635h8v1h-8zM635 635h1v1h-1zM726 635h1v1h-1zM831 635h1v1h-1zM851 635h2v1h-2zM875 635h1v1h-1zM885 635h2v1h-2zM893 635h2v1h-2zM896 635h1v1h-1zM913 635h2v1h-2zM916 635h1v1h-1zM1193 635h1v1h-1zM1222 635h1v1h-1zM30 636h2v1h-2zM157 636h2v1h-2zM274 636h3v1h-3zM289 636h2v1h-2zM294 636h4v1h-4zM410 636h1v1h-1zM582 636h3v1h-3zM636 636h2v1h-2zM676 636h1v1h-1zM716 636h1v1h-1zM814 636h6v1h-6zM853 636h2v1h-2zM858 636h3v1h-3zM874 636h1v1h-1zM876 636h1v1h-1zM883 636h2v1h-2zM895 636h1v1h-1zM911 636h2v1h-2zM984 636h2v1h-2zM1223 636h3v1h-3zM159 637h1v1h-1zM266 637h8v1h-8zM277 637h2v1h-2zM286 637h3v1h-3zM585 637h2v1h-2zM638 637h1v1h-1zM668 637h1v1h-1zM675 637h1v1h-1zM703 637h1v1h-1zM715 637h1v1h-1zM795 637h5v1h-5zM811 637h3v1h-3zM820 637h1v1h-1zM855 637h3v1h-3zM861 637h2v1h-2zM877 637h1v1h-1zM882 637h1v1h-1zM909 637h2v1h-2zM986 637h2v1h-2zM1226 637h3v1h-3zM160 638h2v1h-2zM195 638h5v1h-5zM263 638h3v1h-3zM279 638h7v1h-7zM639 638h2v1h-2zM669 638h2v1h-2zM673 638h2v1h-2zM704 638h1v1h-1zM713 638h2v1h-2zM793 638h2v1h-2zM800 638h2v1h-2zM809 638h2v1h-2zM863 638h6v1h-6zM878 638h1v1h-1zM880 638h2v1h-2zM907 638h2v1h-2zM918 638h1v1h-1zM988 638h2v1h-2zM1229 638h2v1h-2zM162 639h1v1h-1zM193 639h2v1h-2zM200 639h2v1h-2zM641 639h2v1h-2zM671 639h2v1h-2zM705 639h1v1h-1zM711 639h2v1h-2zM791 639h2v1h-2zM802 639h1v1h-1zM806 639h3v1h-3zM869 639h2v1h-2zM872 639h1v1h-1zM879 639h1v1h-1zM905 639h2v1h-2zM919 639h1v1h-1zM955 639h1v1h-1zM990 639h1v1h-1zM1231 639h1v1h-1zM1250 639h1v1h-1zM163 640h7v1h-7zM191 640h2v1h-2zM202 640h1v1h-1zM206 640h2v1h-2zM706 640h1v1h-1zM709 640h2v1h-2zM789 640h2v1h-2zM803 640h3v1h-3zM822 640h1v1h-1zM871 640h1v1h-1zM903 640h2v1h-2zM956 640h1v1h-1zM991 640h1v1h-1zM1232 640h1v1h-1zM1246 640h4v1h-4zM170 641h2v1h-2zM203 641h3v1h-3zM208 641h1v1h-1zM707 641h2v1h-2zM788 641h1v1h-1zM823 641h2v1h-2zM957 641h1v1h-1zM967 641h1v1h-1zM992 641h1v1h-1zM1233 641h1v1h-1zM1239 641h7v1h-7zM172 642h1v1h-1zM743 642h2v1h-2zM825 642h2v1h-2zM958 642h1v1h-1zM965 642h2v1h-2zM968 642h1v1h-1zM1076 642h1v1h-1zM1234 642h1v1h-1zM1237 642h2v1h-2zM173 643h1v1h-1zM254 643h1v1h-1zM731 643h2v1h-2zM742 643h1v1h-1zM745 643h2v1h-2zM959 643h6v1h-6zM969 643h1v1h-1zM1039 643h2v1h-2zM1077 643h1v1h-1zM1213 643h2v1h-2zM1235 643h2v1h-2zM174 644h1v1h-1zM210 644h1v1h-1zM733 644h2v1h-2zM741 644h1v1h-1zM935 644h5v1h-5zM970 644h1v1h-1zM994 644h1v1h-1zM1038 644h1v1h-1zM1041 644h2v1h-2zM1078 644h1v1h-1zM1211 644h2v1h-2zM175 645h3v1h-3zM211 645h1v1h-1zM735 645h3v1h-3zM740 645h1v1h-1zM940 645h2v1h-2zM971 645h1v1h-1zM995 645h2v1h-2zM1007 645h5v1h-5zM1037 645h1v1h-1zM1043 645h1v1h-1zM1079 645h1v1h-1zM1203 645h2v1h-2zM1210 645h1v1h-1zM178 646h2v1h-2zM212 646h1v1h-1zM252 646h1v1h-1zM738 646h2v1h-2zM923 646h2v1h-2zM942 646h1v1h-1zM997 646h2v1h-2zM1006 646h1v1h-1zM1012 646h2v1h-2zM1036 646h1v1h-1zM1044 646h1v1h-1zM1080 646h1v1h-1zM1085 646h1v1h-1zM1201 646h2v1h-2zM1205 646h2v1h-2zM1208 646h2v1h-2zM180 647h1v1h-1zM187 647h1v1h-1zM213 647h1v1h-1zM925 647h2v1h-2zM943 647h3v1h-3zM950 647h1v1h-1zM999 647h2v1h-2zM1005 647h1v1h-1zM1014 647h1v1h-1zM1031 647h5v1h-5zM1045 647h1v1h-1zM1081 647h1v1h-1zM1200 647h1v1h-1zM1207 647h1v1h-1zM186 648h1v1h-1zM214 648h1v1h-1zM927 648h1v1h-1zM946 648h4v1h-4zM1001 648h2v1h-2zM1004 648h1v1h-1zM1015 648h3v1h-3zM1029 648h2v1h-2zM1046 648h1v1h-1zM1082 648h1v1h-1zM185 649h1v1h-1zM215 649h2v1h-2zM928 649h1v1h-1zM1003 649h1v1h-1zM1018 649h4v1h-4zM1026 649h3v1h-3zM1047 649h2v1h-2zM1083 649h1v1h-1zM182 650h1v1h-1zM184 650h1v1h-1zM217 650h2v1h-2zM929 650h1v1h-1zM978 650h1v1h-1zM1022 650h4v1h-4zM1049 650h2v1h-2zM183 651h1v1h-1zM219 651h2v1h-2zM930 651h1v1h-1zM976 651h2v1h-2zM1051 651h3v1h-3zM10 652h1v1h-1zM221 652h2v1h-2zM751 652h2v1h-2zM975 652h1v1h-1zM1054 652h3v1h-3zM8 653h2v1h-2zM753 653h2v1h-2zM763 653h1v1h-1zM779 653h3v1h-3zM1057 653h2v1h-2zM1070 653h1v1h-1zM6 654h2v1h-2zM755 654h3v1h-3zM761 654h2v1h-2zM764 654h2v1h-2zM778 654h1v1h-1zM782 654h1v1h-1zM1059 654h1v1h-1zM1068 654h2v1h-2zM3 655h3v1h-3zM758 655h3v1h-3zM766 655h1v1h-1zM770 655h3v1h-3zM777 655h1v1h-1zM1060 655h2v1h-2zM1067 655h1v1h-1zM242 656h4v1h-4zM767 656h3v1h-3zM773 656h2v1h-2zM776 656h1v1h-1zM1062 656h1v1h-1zM1065 656h2v1h-2zM231 657h11v1h-11zM246 657h1v1h-1zM775 657h1v1h-1zM1063 657h2v1h-2zM230 658h1v1h-1zM229 659h1v1h-1zM228 660h1v1h-1zM227 661h1v1h-1z" fill="#1e90ff" shape-rendering="crispEdges"/>
<path d="M526 698h1v1h-1zM530 698h3v1h-3zM524 699h2v1h-2zM536 700h1v1h-1zM519 701h2v1h-2zM537 701h2v1h-2zM518 702h1v1h-1zM514 704h1v1h-1zM542 704h1v1h-1zM513 705h1v1h-1zM543 705h1v1h-1zM512 706h1v1h-1zM544 706h1v1h-1zM508 709h1v1h-1zM507 710h1v1h-1zM548 710h1v1h-1zM506 711h1v1h-1zM549 711h1v1h-1zM550 712h1v1h-1zM502 715h1v1h-1zM501 716h1v1h-1zM554 716h1v1h-1zM500 717h1v1h-1zM555 717h1v1h-1zM556 718h1v1h-1zM497 721h1v1h-1zM560 721h2v1h-2zM496 722h1v1h-1zM562 722h1v1h-1zM495 723h1v1h-1zM566 724h1v1h-1zM567 725h1v1h-1zM568 726h1v1h-1zM491 727h1v1h-1zM490 728h1v1h-1zM572 728h1v1h-1zM489 729h1v1h-1zM573 729h2v1h-2zM485 731h1v1h-1zM483 732h2v1h-2zM578 732h1v1h-1zM579 733h1v1h-1zM580 734h1v1h-1zM479 735h1v1h-1zM477 736h2v1h-2zM584 736h1v1h-1zM585 737h2v1h-2zM473 738h1v1h-1zM471 739h2v1h-2zM381 740h1v1h-1zM466 740h2v1h-2zM590 740h1v1h-1zM369 741h3v1h-3zM375 741h3v1h-3zM382 741h2v1h-2zM387 741h3v1h-3zM393 741h1v1h-1zM465 741h1v1h-1zM591 741h2v1h-2zM363 742h3v1h-3zM394 742h2v1h-2zM399 742h3v1h-3zM459 742h3v1h-3zM1174 742h1v1h-1zM1178 742h3v1h-3zM1184 742h3v1h-3zM357 743h3v1h-3zM405 743h1v1h-1zM454 743h2v1h-2zM596 743h2v1h-2zM1172 743h2v1h-2zM1190 743h3v1h-3zM1196 743h2v1h-2zM351 744h3v1h-3zM406 744h2v1h-2zM411 744h3v1h-3zM453 744h1v1h-1zM598 744h1v1h-1zM1166 744h3v1h-3zM1198 744h1v1h-1zM117 745h3v1h-3zM123 745h3v1h-3zM129 745h3v1h-3zM346 745h2v1h-2zM417 745h3v1h-3zM441 745h3v1h-3zM447 745h3v1h-3zM602 745h1v1h-1zM1161 745h2v1h-2zM1202 745h1v1h-1zM99 746h3v1h-3zM105 746h3v1h-3zM111 746h3v1h-3zM135 746h3v1h-3zM141 746h3v1h-3zM147 746h3v1h-3zM345 746h1v1h-1zM423 746h3v1h-3zM429 746h3v1h-3zM435 746h3v1h-3zM603 746h2v1h-2zM608 746h3v1h-3zM614 746h3v1h-3zM620 746h3v1h-3zM626 746h3v1h-3zM632 746h3v1h-3zM1160 746h1v1h-1zM1203 746h2v1h-2zM93 747h3v1h-3zM153 747h3v1h-3zM339 747h3v1h-3zM638 747h3v1h-3zM644 747h2v1h-2zM1208 747h1v1h-1zM87 748h3v1h-3zM159 748h3v1h-3zM334 748h2v1h-2zM646 748h1v1h-1zM1154 748h3v1h-3zM1209 748h2v1h-2zM81 749h3v1h-3zM165 749h1v1h-1zM333 749h1v1h-1zM650 749h3v1h-3zM656 749h3v1h-3zM1150 749h1v1h-1zM69 750h3v1h-3zM75 750h3v1h-3zM166 750h2v1h-2zM171 750h3v1h-3zM327 750h3v1h-3zM662 750h3v1h-3zM668 750h2v1h-2zM1148 750h2v1h-2zM1214 750h3v1h-3zM63 751h3v1h-3zM177 751h1v1h-1zM322 751h2v1h-2zM670 751h1v1h-1zM674 751h3v1h-3zM680 751h3v1h-3zM686 751h3v1h-3zM692 751h3v1h-3zM698 751h3v1h-3zM704 751h3v1h-3zM710 751h3v1h-3zM1142 751h3v1h-3zM1220 751h2v1h-2zM58 752h2v1h-2zM178 752h2v1h-2zM183 752h3v1h-3zM321 752h1v1h-1zM716 752h3v1h-3zM722 752h3v1h-3zM728 752h2v1h-2zM1138 752h1v1h-1zM1222 752h1v1h-1zM57 753h1v1h-1zM189 753h1v1h-1zM315 753h3v1h-3zM730 753h1v1h-1zM1136 753h2v1h-2zM1226 753h3v1h-3zM51 754h3v1h-3zM190 754h2v1h-2zM195 754h3v1h-3zM309 754h3v1h-3zM734 754h3v1h-3zM1130 754h3v1h-3zM1232 754h2v1h-2zM46 755h2v1h-2zM201 755h3v1h-3zM207 755h3v1h-3zM213 755h1v1h-1zM298 755h2v1h-2zM303 755h3v1h-3zM740 755h2v1h-2zM872 755h3v1h-3zM878 755h3v1h-3zM884 755h3v1h-3zM890 755h3v1h-3zM896 755h3v1h-3zM902 755h3v1h-3zM908 755h3v1h-3zM914 755h3v1h-3zM920 755h3v1h-3zM926 755h3v1h-3zM1126 755h1v1h-1zM1234 755h1v1h-1zM1238 755h3v1h-3zM1244 755h2v1h-2zM45 756h1v1h-1zM214 756h2v1h-2zM219 756h3v1h-3zM225 756h1v1h-1zM291 756h3v1h-3zM297 756h1v1h-1zM742 756h1v1h-1zM862 756h1v1h-1zM866 756h3v1h-3zM932 756h3v1h-3zM1124 756h2v1h-2zM1246 756h1v1h-1zM1250 756h3v1h-3zM1256 756h3v1h-3zM1262 756h2v1h-2zM39 757h3v1h-3zM226 757h2v1h-2zM286 757h2v1h-2zM746 757h3v1h-3zM855 757h2v1h-2zM860 757h2v1h-2zM938 757h3v1h-3zM944 757h2v1h-2zM1118 757h3v1h-3zM34 758h2v1h-2zM231 758h3v1h-3zM237 758h1v1h-1zM285 758h1v1h-1zM854 758h1v1h-1zM946 758h1v1h-1zM27 759h3v1h-3zM33 759h1v1h-1zM238 759h2v1h-2zM279 759h3v1h-3zM752 759h2v1h-2zM850 759h1v1h-1zM950 759h3v1h-3zM1113 759h2v1h-2zM3 760h3v1h-3zM9 760h3v1h-3zM15 760h3v1h-3zM21 760h3v1h-3zM243 760h3v1h-3zM274 760h2v1h-2zM754 760h1v1h-1zM848 760h2v1h-2zM956 760h3v1h-3zM1112 760h1v1h-1zM249 761h3v1h-3zM255 761h3v1h-3zM273 761h1v1h-1zM758 761h1v1h-1zM843 761h2v1h-2zM962 761h3v1h-3zM968 761h3v1h-3zM986 761h3v1h-3zM992 761h3v1h-3zM1106 761h3v1h-3zM261 762h3v1h-3zM267 762h3v1h-3zM759 762h2v1h-2zM842 762h1v1h-1zM974 762h3v1h-3zM980 762h3v1h-3zM998 762h3v1h-3zM1004 762h3v1h-3zM1010 762h3v1h-3zM1102 762h1v1h-1zM838 763h1v1h-1zM1016 763h3v1h-3zM1022 763h3v1h-3zM1100 763h2v1h-2zM764 764h1v1h-1zM836 764h2v1h-2zM1028 764h3v1h-3zM1034 764h3v1h-3zM1040 764h3v1h-3zM1046 764h3v1h-3zM1052 764h3v1h-3zM1058 764h3v1h-3zM1094 764h3v1h-3zM765 765h2v1h-2zM1064 765h3v1h-3zM1070 765h3v1h-3zM1076 765h3v1h-3zM1082 765h3v1h-3zM1088 765h3v1h-3zM830 766h3v1h-3zM826 767h1v1h-1zM770 768h1v1h-1zM824 768h2v1h-2zM771 769h2v1h-2zM819 770h2v1h-2zM776 771h1v1h-1zM818 771h1v1h-1zM777 772h2v1h-2zM813 773h2v1h-2zM782 774h1v1h-1zM812 774h1v1h-1zM783 775h2v1h-2zM807 775h2v1h-2zM806 776h1v1h-1zM788 777h2v1h-2zM802 777h1v1h-1zM790 778h1v1h-1zM794 778h3v1h-3zM800 778h2v1h-2z" fill="#ff0000" shape-rendering="crispEdges"/>
<g shape-rendering="crispEdges" fill="#000">
<rect x="2" y="23" width="1" height="557"/><rect x="2" y="581" width="1" height="103"/><rect x="2" y="685" width="1" height="102"/>
<rect x="1595" y="23" width="1" height="764"/>
<rect x="2" y="23" width="1593" height="1"/>
<rect x="2" y="579" width="1594" height="1"/>
<rect x="2" y="581" width="1594" height="1"/>
<rect x="2" y="683" width="1594" height="1"/>
<rect x="2" y="685" width="1594" height="1"/>
<rect x="2" y="786" width="1594" height="1"/>
<rect x="1596" y="48" width="2" height="1"/>
<rect x="1596" y="81" width="2" height="1"/>
<rect x="1596" y="114" width="2" height="1"/>
<rect x="1596" y="147" width="2" height="1"/>
<rect x="1596" y="180" width="2" height="1"/>
<rect x="1596" y="213" width="2" height="1"/>
<rect x="1596" y="246" width="2" height="1"/>
<rect x="1596" y="279" width="2" height="1"/>
<rect x="1596" y="312" width="2" height="1"/>
<rect x="1596" y="345" width="2" height="1"/>
<rect x="1596" y="378" width="2" height="1"/>
<rect x="1596" y="411" width="2" height="1"/>
<rect x="1596" y="444" width="2" height="1"/>
<rect x="1596" y="477" width="2" height="1"/>
<rect x="1596" y="510" width="2" height="1"/>
<rect x="1596" y="543" width="2" height="1"/>
<rect x="1596" y="576" width="2" height="1"/>
<rect x="1596" y="583" width="1" height="1"/>
<rect x="1596" y="612" width="2" height="1"/>
<rect x="1596" y="652" width="2" height="1"/>
<rect x="1596" y="681" width="1" height="1"/>
<rect x="1596" y="687" width="1" height="1"/>
<rect x="1596" y="750" width="2" height="1"/>
<rect x="1596" y="785" width="1" height="1"/>
<rect x="3" y="787" width="1" height="3"/>
<rect x="67" y="787" width="1" height="3"/>
<rect x="131" y="787" width="1" height="3"/>
<rect x="195" y="787" width="1" height="3"/>
<rect x="259" y="787" width="1" height="3"/>
<rect x="323" y="787" width="1" height="3"/>
<rect x="387" y="787" width="1" height="3"/>
<rect x="451" y="787" width="1" height="3"/>
<rect x="515" y="787" width="1" height="3"/>
<rect x="579" y="787" width="1" height="3"/>
<rect x="643" y="787" width="1" height="3"/>
<rect x="707" y="787" width="1" height="3"/>
<rect x="771" y="787" width="1" height="3"/>
<rect x="835" y="787" width="1" height="3"/>
<rect x="899" y="787" width="1" height="3"/>
<rect x="963" y="787" width="1" height="3"/>
<rect x="1027" y="787" width="1" height="3"/>
<rect x="1091" y="787" width="1" height="3"/>
<rect x="1155" y="787" width="1" height="3"/>
<rect x="1219" y="787" width="1" height="3"/>
</g>
<g shape-rendering="crispEdges">
<rect x="27" y="0" width="1" height="19" fill="#a0a0a0"/><rect x="28" y="0" width="1" height="19" fill="#ffffff"/>
<rect x="31" y="1" width="3" height="1" fill="#a0a0a0"/><rect x="32" y="2" width="3" height="1" fill="#f8f8f8"/>
<rect x="31" y="3" width="3" height="1" fill="#a0a0a0"/><rect x="32" y="4" width="3" height="1" fill="#f8f8f8"/>
<rect x="31" y="5" width="3" height="1" fill="#a0a0a0"/><rect x="32" y="6" width="3" height="1" fill="#f8f8f8"/>
<rect x="31" y="7" width="3" height="1" fill="#a0a0a0"/><rect x="32" y="8" width="3" height="1" fill="#f8f8f8"/>
<rect x="31" y="9" width="3" height="1" fill="#a0a0a0"/><rect x="32" y="10" width="3" height="1" fill="#f8f8f8"/>
<rect x="31" y="11" width="3" height="1" fill="#a0a0a0"/><rect x="32" y="12" width="3" height="1" fill="#f8f8f8"/>
<rect x="31" y="13" width="3" height="1" fill="#a0a0a0"/><rect x="32" y="14" width="3" height="1" fill="#f8f8f8"/>
<rect x="31" y="15" width="3" height="1" fill="#a0a0a0"/><rect x="32" y="16" width="3" height="1" fill="#f8f8f8"/>
<rect x="16" y="6" width="5" height="1" fill="#000"/><rect x="17" y="7" width="3" height="1" fill="#000"/><rect x="18" y="8" width="1" height="1" fill="#000"/>
<rect x="206" y="0" width="24" height="17" fill="#f8f8f8"/>
<rect x="205" y="0" width="1" height="17" fill="#a0a0a0"/><rect x="230" y="0" width="1" height="18" fill="#ffffff"/><rect x="205" y="17" width="26" height="1" fill="#ffffff"/>
<rect x="288" y="0" width="1" height="19" fill="#a0a0a0"/><rect x="289" y="0" width="1" height="19" fill="#ffffff"/>
</g>
<polygon points="2,10 9,10 5.5,14.2" fill="#505050"/><rect x="4" y="9" width="3" height="1" fill="#505050"/>
<path d="M0,9.5 L3.6,5.4" stroke="#404040" stroke-width="1.3" fill="none"/><path d="M0,3.2 L1.6,4.4" stroke="#404040" stroke-width="1.3" fill="none"/>
<polygon points="1270,24 1281,24 1275.5,29.5" fill="#c0c0c0"/>
<polygon points="6,30 12.6,30 9.3,33.6" fill="#000"/>
</svg>
<div class="t tt" style="left:18px;top:27px;">USDCAD,Daily</div><div class="t tn" style="left:90px;top:27px;">1.33202 1.33275 1.32905 1.33037</div><div class="t tr" style="left:7px;top:585px;">RSI(14) 58.9920</div><div class="t tm" style="left:7px;top:688px;">MACD(12,26,9) 0.000033 -0.002313</div><div class="t tp" style="left:1601px;top:44px;">1.46740</div><div class="t tp" style="left:1601px;top:77px;">1.45660</div><div class="t tp" style="left:1601px;top:110px;">1.44550</div><div class="t tp" style="left:1601px;top:143px;">1.43440</div><div class="t tp" style="left:1601px;top:176px;">1.42360</div><div class="t tp" style="left:1601px;top:209px;">1.41250</div><div class="t tp" style="left:1601px;top:242px;">1.40140</div><div class="t tp" style="left:1601px;top:275px;">1.39060</div><div class="t tp" style="left:1601px;top:308px;">1.37950</div><div class="t tp" style="left:1601px;top:341px;">1.36840</div><div class="t tp" style="left:1601px;top:374px;">1.35730</div><div class="t tp" style="left:1601px;top:407px;">1.34650</div><div class="t tp" style="left:1601px;top:440px;">1.33540</div><div class="t tp" style="left:1601px;top:473px;">1.32460</div><div class="t tp" style="left:1601px;top:506px;">1.31350</div><div class="t tp" style="left:1601px;top:539px;">1.30240</div><div class="t tp" style="left:1601px;top:572px;">1.29160</div><div class="t tp" style="left:1598.5px;top:584px;">100</div><div class="t tp" style="left:1597.3px;top:608px;">70</div><div class="t tp" style="left:1597.3px;top:648px;">30</div><div class="t tp" style="left:1598.5px;top:672px;">0</div><div class="t tp" style="left:1598.5px;top:688px;">0.032972</div><div class="t tp" style="left:1598.5px;top:746px;">0.00</div><div class="t tp" style="left:1598.5px;top:775px;">-0.018154</div><div class="lb" style="top:376px;background:#ff0000">1.35606</div><div class="lb" style="top:418px;background:#ff0000">1.34206</div><div class="lb" style="top:454px;background:#00ff00">1.33011</div><div class="lb" style="top:502px;background:#0000ff">1.31405</div><div class="lb" style="top:540px;background:#0000ff">1.30152</div><div class="t td" style="left:2px;top:791px;">26 Oct 2019</div><div class="t td" style="left:66px;top:791px;">14 Nov 2019</div><div class="t td" style="left:130px;top:791px;">3 Dec 2019</div><div class="t td" style="left:194px;top:791px;">21 Dec 2019</div><div class="t td" style="left:258px;top:791px;">9 Jan 2020</div><div class="t td" style="left:322px;top:791px;">28 Jan 2020</div><div class="t td" style="left:386px;top:791px;">15 Feb 2020</div><div class="t td" style="left:450px;top:791px;">5 Mar 2020</div><div class="t td" style="left:514px;top:791px;">24 Mar 2020</div><div class="t td" style="left:578px;top:791px;">11 Apr 2020</div><div class="t td" style="left:642px;top:791px;">30 Apr 2020</div><div class="t td" style="left:706px;top:791px;">19 May 2020</div><div class="t td" style="left:770px;top:791px;">6 Jun 2020</div><div class="t td" style="left:834px;top:791px;">25 Jun 2020</div><div class="t td" style="left:898px;top:791px;">14 Jul 2020</div><div class="t td" style="left:962px;top:791px;">1 Aug 2020</div><div class="t td" style="left:1026px;top:791px;">20 Aug 2020</div><div class="t td" style="left:1090px;top:791px;">8 Sep 2020</div><div class="t td" style="left:1154px;top:791px;">26 Sep 2020</div><div class="t td" style="left:1218px;top:791px;">15 Oct 2020</div><div class="t tb" style="left:42px;top:3px;">M1</div><div class="t tb" style="left:70px;top:3px;">M5</div><div class="t tb" style="left:96px;top:3px;">M15</div><div class="t tb" style="left:124px;top:3px;">M30</div><div class="t tb" style="left:155px;top:3px;">H1</div><div class="t tb" style="left:182px;top:3px;">H4</div><div class="t tb" style="left:211.8px;top:3px;">D1</div><div class="t tb" style="left:239px;top:3px;">W1</div><div class="t tb" style="left:265.6px;top:3px;">MN</div>
<div id="tabbar"><div id="tabl0"></div><div id="tabl1"></div><div id="tabtop"></div><div id="tabl2"></div><div id="tabl3"></div><div id="tabl4"></div><div id="acttab"></div>
<div class="tab" style="left:16px">EURUSD,Daily</div><div class="tab" style="left:118px">USDCHF,Daily</div><div class="tab" style="left:219px">AUDUSD,Daily</div><div class="tab act" style="left:323px">USDCAD,Daily</div><div class="tab" style="left:426px">USDCNH,Daily</div><div class="tab" style="left:532px">EURUSD,Daily</div><div class="tab" style="left:636px">GBPUSD,H4</div><div class="tab" style="left:728px">XAUUSD,H1</div><div class="tab" style="left:819px">HK50,H1</div><div class="tab" style="left:891px">UK100,H1</div><div class="tab" style="left:972px">UK100,H1</div><div class="tab" style="left:1051px">GER30,H1</div><div class="tab" style="left:1130px">FRA40,H1</div><div class="tab" style="left:1206px">USOil,H4</div><div class="tab" style="left:1278px">USDJPY,H1</div><div class="tab" style="left:1362px">DJ30,Daily</div><div class="tab" style="left:1442px">CHINA300,H1</div><div class="tab" style="left:1542px">USOil,H1</div><div class="sep" style="left:108px"></div><div class="sep" style="left:209px"></div><div class="sep" style="left:520px"></div><div class="sep" style="left:624px"></div><div class="sep" style="left:716px"></div><div class="sep" style="left:809px"></div><div class="sep" style="left:880px"></div><div class="sep" style="left:960px"></div><div class="sep" style="left:1040px"></div><div class="sep" style="left:1120px"></div><div class="sep" style="left:1196px"></div><div class="sep" style="left:1268px"></div><div class="sep" style="left:1352px"></div><div class="sep" style="left:1431px"></div><div class="sep" style="left:1531px"></div><div class="sep" style="left:1604px"></div>
<svg width="40" height="28" style="left:1599px;top:0"><polygon points="15,7 15,15 11,11" fill="#a0a0a0"/><polygon points="30,7 30,15 34,11" fill="#000"/></svg>
</div>
</body></html>
